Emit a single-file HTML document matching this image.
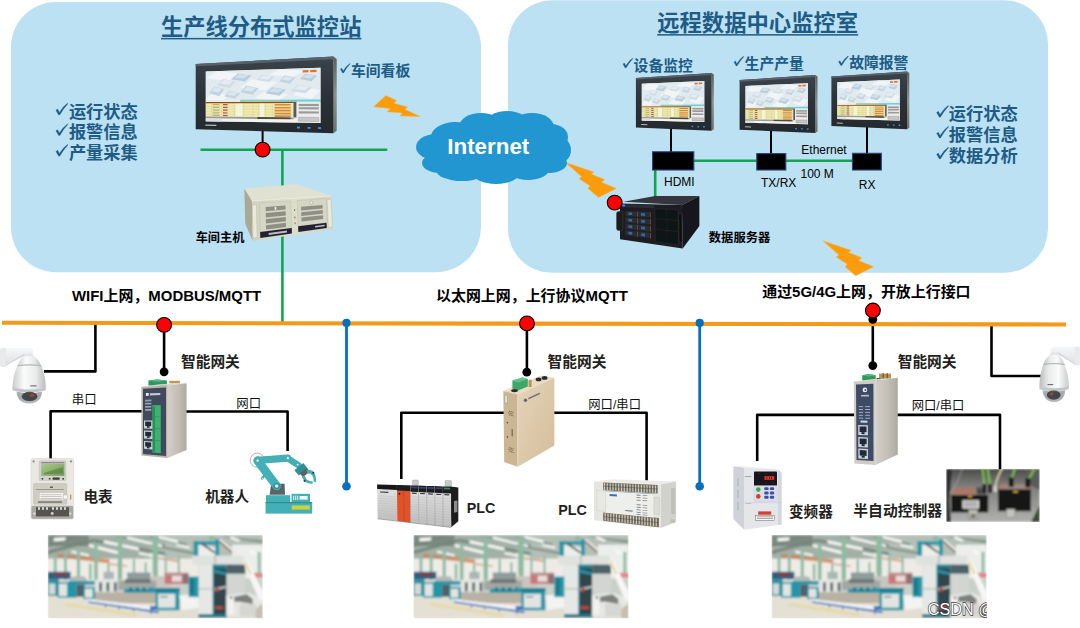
<!DOCTYPE html>
<html lang="zh"><head><meta charset="utf-8"><title>智能网关组网示意图</title>
<style>
html,body{margin:0;padding:0;background:#fff;}
body{width:1080px;height:628px;overflow:hidden;font-family:"Liberation Sans","Noto Sans CJK SC",sans-serif;}
svg{display:block;font-family:"Liberation Sans","Noto Sans CJK SC",sans-serif;}
</style></head><body>
<svg width="1080" height="628" viewBox="0 0 1080 628">
<defs>
<linearGradient id="medge" x1="0" y1="0" x2="0" y2="1"><stop offset="0" stop-color="#5e5f58"/><stop offset="0.5" stop-color="#8e8f88"/><stop offset="1" stop-color="#6f706a"/></linearGradient><linearGradient id="bezel" x1="0" y1="0" x2="0" y2="1"><stop offset="0" stop-color="#3b444a"/><stop offset="0.5" stop-color="#2c3338"/><stop offset="1" stop-color="#24292d"/></linearGradient><linearGradient id="ipcf" x1="0" y1="0" x2="1" y2="0"><stop offset="0" stop-color="#d2d2bf"/><stop offset="0.5" stop-color="#dedecd"/><stop offset="1" stop-color="#d4d4c2"/></linearGradient><filter id="soft" x="-5%" y="-5%" width="110%" height="110%"><feGaussianBlur stdDeviation="0.45"/></filter><filter id="soft2" x="-5%" y="-5%" width="110%" height="110%"><feGaussianBlur stdDeviation="0.8"/></filter><linearGradient id="domeg" x1="0" y1="0" x2="1" y2="0"><stop offset="0" stop-color="#c9cbcc"/><stop offset="0.35" stop-color="#fbfbfb"/><stop offset="0.7" stop-color="#e9eaea"/><stop offset="1" stop-color="#b9bbbc"/></linearGradient><linearGradient id="armg" x1="0" y1="0" x2="0" y2="1"><stop offset="0" stop-color="#f6f7f8"/><stop offset="1" stop-color="#dfe2e4"/></linearGradient><radialGradient id="lensg" cx="0.5" cy="0.35" r="0.75"><stop offset="0" stop-color="#9a9da1"/><stop offset="0.6" stop-color="#a9acb0"/><stop offset="1" stop-color="#d3d5d7"/></radialGradient><linearGradient id="gwside" x1="0" y1="0" x2="1" y2="0"><stop offset="0" stop-color="#d3cfc8"/><stop offset="0.55" stop-color="#c3bfb7"/><stop offset="1" stop-color="#aeaaa2"/></linearGradient><linearGradient id="goldR" x1="0" y1="0" x2="1" y2="1"><stop offset="0" stop-color="#e6d4b8"/><stop offset="1" stop-color="#d3bd9b"/></linearGradient><linearGradient id="lcd" x1="0" y1="0" x2="1" y2="1"><stop offset="0" stop-color="#a9c98b"/><stop offset="1" stop-color="#6f9a52"/></linearGradient><linearGradient id="plcg" x1="0" y1="0" x2="0" y2="1"><stop offset="0" stop-color="#e4e4e4"/><stop offset="1" stop-color="#bfbfbf"/></linearGradient><linearGradient id="cabg" x1="0" y1="0" x2="0" y2="1"><stop offset="0" stop-color="#4a4b4a"/><stop offset="0.3" stop-color="#7b7c7a"/><stop offset="1" stop-color="#b1b2af"/></linearGradient><clipPath id="cabclip"><rect x="946.2" y="469" width="93.5" height="53"/></clipPath><clipPath id="facclip"><rect x="0" y="0" width="215.0" height="83.3"/></clipPath><g id="factory" clip-path="url(#facclip)"><g filter="url(#soft2)"><rect x="0" y="0" width="215.0" height="83.3" fill="#c9d0c9"/><rect x="0.1" y="0.1" width="117.2" height="24.2" fill="#a3b0a6"/><rect x="102.2" y="0.1" width="112.8" height="24.2" fill="#b4bfb6"/><rect x="0.1" y="0.1" width="41.0" height="11.0" fill="#7c8a81"/><rect x="0.1" y="23.6" width="117.2" height="22.0" fill="#efece8"/><rect x="102.2" y="23.6" width="48.4" height="19.8" fill="#eeebe7"/><rect x="184.3" y="9.7" width="30.8" height="33.7" fill="#eceeeb"/><rect x="0.1" y="60.2" width="117.2" height="24.2" fill="#e4e0d4"/><rect x="102.2" y="68.3" width="112.8" height="16.1" fill="#e2ded2"/><polygon points="19.2,68.3 91.0,79.2 88.0,81.4 14.8,70.0" fill="#e6d68c" opacity="0.7"/><polygon points="0.1,15.5 45.6,3.8 45.6,6.7 0.1,19.2" fill="#74857b" opacity="0.85"/><polygon points="45.6,3.8 117.3,17.0 117.3,19.9 45.6,7.0" fill="#74857b" opacity="0.85"/><polygon points="0.1,8.9 26.5,0.9 32.4,0.9 0.1,12.3" fill="#74857b" opacity="0.85"/><polygon points="70.5,0.9 117.3,8.9 117.3,11.4 66.1,0.9" fill="#74857b" opacity="0.85"/><polygon points="102.2,8.9 146.2,17.0 146.2,19.6 102.2,11.4" fill="#7d8d83" opacity="0.8"/><polygon points="102.2,0.9 138.8,8.2 138.8,10.5 102.2,3.5" fill="#7d8d83" opacity="0.8"/><polygon points="172.5,0.9 215.0,5.3 215.0,8.2 184.3,3.8" fill="#7d8d83" opacity="0.8"/><polygon points="55.8,5.3 91.0,12.6 91.0,15.5 55.8,8.2" fill="#f6f8f5"/><polygon points="41.2,8.9 73.4,17.0 73.4,19.9 41.2,11.8" fill="#f6f8f5"/><polygon points="79.3,1.6 114.4,9.7 114.4,12.3 79.3,4.1" fill="#f6f8f5"/><polygon points="6.0,3.1 17.7,2.3 17.7,5.5 6.0,6.4" fill="#f6f8f5"/><polygon points="23.6,15.5 41.2,19.2 41.2,21.4 23.6,17.7" fill="#f6f8f5"/><polygon points="91.0,17.0 114.4,22.1 114.4,24.0 91.0,19.2" fill="#f6f8f5"/><polygon points="111.0,0.9 130.0,5.3 130.0,8.2 111.0,3.5" fill="#f6f8f5"/><polygon points="128.6,8.9 141.8,11.4 141.8,13.8 128.6,11.1" fill="#f6f8f5"/><polygon points="184.3,1.6 193.0,5.3 190.1,6.7 181.3,3.1" fill="#f6f8f5"/><polygon points="201.8,14.0 207.7,17.0 207.7,20.6 201.8,17.7" fill="#f6f8f5"/><polygon points="102.2,18.4 119.8,22.1 119.8,24.0 102.2,20.6" fill="#f6f8f5"/><polygon points="9.7,18.7 61.7,24.6 61.7,28.4 9.7,22.3" fill="#cd7a48" opacity="0.75"/><polygon points="61.7,28.0 79.3,30.2 79.3,31.9 61.7,29.9" fill="#cf9a78" opacity="0.7"/><polygon points="108.1,21.4 131.5,25.0 131.5,27.5 108.1,23.7" fill="#cc7a50" opacity="0.55"/><rect x="6.0" y="22.8" width="2.9" height="20.5" fill="#8dbba3"/><rect x="16.2" y="19.2" width="2.9" height="25.6" fill="#8dbba3"/><rect x="29.1" y="14.0" width="3.2" height="27.8" fill="#8dbba3"/><rect x="46.3" y="8.9" width="3.7" height="35.9" fill="#8dbba3"/><rect x="70.0" y="1.6" width="4.4" height="43.2" fill="#8dbba3"/><rect x="105.3" y="1.6" width="4.7" height="40.3" fill="#8dbba3"/><rect x="41.2" y="28.7" width="2.6" height="16.1" fill="#8dbba3"/><rect x="59.5" y="28.7" width="2.2" height="13.2" fill="#8dbba3"/><rect x="85.1" y="24.3" width="2.2" height="17.6" fill="#8dbba3"/><rect x="96.8" y="27.2" width="2.1" height="14.7" fill="#8dbba3"/><rect x="104.8" y="0.9" width="5.0" height="38.1" fill="#8dbba3"/><rect x="116.9" y="18.4" width="2.1" height="20.5" fill="#8dbba3"/><rect x="130.0" y="21.4" width="2.1" height="17.6" fill="#8dbba3"/><rect x="161.5" y="0.9" width="5.1" height="4.4" fill="#8dbba3"/><rect x="209.9" y="17.0" width="2.9" height="22.0" fill="#8dbba3"/><rect x="79.3" y="37.5" width="23.4" height="8.1" fill="#8e9c9a"/><rect x="55.8" y="36.8" width="10.3" height="7.3" fill="#a9b7b5"/><rect x="102.2" y="41.2" width="22.0" height="11.7" fill="#c9c6c0"/><rect x="116.9" y="37.8" width="23.7" height="11.1" fill="#c9777a"/><rect x="116.9" y="37.8" width="23.7" height="2.9" fill="#b98f8f"/><rect x="124.2" y="40.7" width="9.5" height="5.9" fill="#e6dcda"/><rect x="135.2" y="39.0" width="5.4" height="10.0" fill="#8f6f72"/><rect x="203.3" y="37.8" width="11.7" height="5.0" fill="#dc8a8b"/><rect x="0.1" y="36.8" width="22.7" height="7.3" fill="#2b5f83"/><rect x="6.0" y="37.8" width="13.2" height="3.4" fill="#7c3f45"/><rect x="0.1" y="44.1" width="11.0" height="16.8" fill="#2f8ea0"/><rect x="1.3" y="48.5" width="6.2" height="11.0" fill="#d5dad7"/><rect x="9.7" y="47.5" width="19.0" height="15.2" fill="#2496a8"/><rect x="11.1" y="48.9" width="8.1" height="12.3" fill="#e3e5e2"/><polygon points="21.4,46.3 24.3,41.6 36.8,41.2 40.0,46.3" fill="#b3b9b6"/><rect x="20.6" y="46.0" width="26.4" height="3.5" fill="#2496a8"/><rect x="28.7" y="49.5" width="8.1" height="12.2" fill="#4d626b"/><rect x="35.6" y="52.4" width="12.6" height="11.7" fill="#2496a8"/><rect x="37.1" y="53.9" width="7.8" height="8.8" fill="#e3e5e2"/><rect x="47.3" y="45.5" width="6.7" height="11.7" fill="#e6e7e4"/><rect x="51.4" y="47.5" width="2.6" height="8.8" fill="#4f5a63"/><rect x="54.6" y="45.5" width="6.7" height="11.7" fill="#e6e7e4"/><rect x="58.7" y="47.5" width="2.6" height="8.8" fill="#4f5a63"/><rect x="62.0" y="45.5" width="6.7" height="11.7" fill="#e6e7e4"/><rect x="66.1" y="47.5" width="2.6" height="8.8" fill="#4f5a63"/><rect x="47.3" y="57.3" width="61.2" height="11.0" fill="#b9b2a4"/><rect x="70.5" y="45.5" width="38.1" height="9.5" fill="#a2a9a5"/><rect x="77.1" y="44.1" width="25.6" height="4.0" fill="#6f7774"/><rect x="76.3" y="53.9" width="33.0" height="3.8" fill="#2496a8"/><rect x="81.4" y="52.4" width="3.2" height="4.1" fill="#1c7888"/><rect x="88.0" y="52.4" width="3.2" height="4.1" fill="#1c7888"/><rect x="94.6" y="52.4" width="3.2" height="4.1" fill="#1c7888"/><rect x="101.5" y="52.4" width="3.2" height="4.1" fill="#1c7888"/><polygon points="39.0,63.9 110.0,71.9 110.8,76.3 40.4,66.2" fill="#f1f3f6"/><polygon points="40.4,66.2 110.8,76.3 110.8,78.2 40.4,67.8" fill="#3b70b6"/><rect x="57.3" y="70.0" width="1.0" height="2.6" fill="#3b70b6"/><rect x="70.5" y="72.0" width="1.0" height="2.6" fill="#3b70b6"/><rect x="85.1" y="74.1" width="1.0" height="2.6" fill="#3b70b6"/><rect x="102.7" y="76.7" width="1.0" height="2.6" fill="#3b70b6"/><rect x="107.8" y="53.3" width="24.0" height="22.0" fill="#2496a8"/><rect x="107.8" y="53.3" width="24.0" height="2.9" fill="#1c7888"/><rect x="110.3" y="58.9" width="17.1" height="13.8" fill="#e3e5e2"/><rect x="112.5" y="61.2" width="7.3" height="1.2" fill="#62737a"/><polygon points="131.5,60.2 150.6,59.2 151.3,72.7 133.7,74.9" fill="#f3f3f1"/><polygon points="102.2,52.9 108.1,53.3 108.1,56.5 102.2,56.2" fill="#2496a8"/><rect x="102.2" y="71.2" width="6.6" height="3.7" fill="#3b70b6"/><rect x="140.9" y="41.6" width="10.8" height="20.5" fill="#2496a8"/><rect x="142.1" y="43.4" width="4.1" height="16.1" fill="#1c7888"/><rect x="145.9" y="6.4" width="4.7" height="16.4" fill="#2496a8"/><rect x="167.4" y="4.1" width="4.0" height="18.8" fill="#2496a8"/><rect x="145.9" y="6.4" width="25.5" height="3.2" fill="#2496a8"/><polygon points="150.6,9.7 167.4,12.3 167.4,21.4 150.6,21.4" fill="#eceeeb"/><polygon points="152.7,8.9 154.9,8.2 167.4,17.0 166.7,18.4" fill="#4a4f52"/><rect x="144.4" y="20.6" width="51.9" height="8.9" fill="#dfe2de"/><rect x="166.7" y="20.6" width="1.2" height="8.9" fill="#aab0ac"/><rect x="150.8" y="29.6" width="14.1" height="50.7" fill="#e6e8e5"/><rect x="150.8" y="53.3" width="14.1" height="1.2" fill="#b7bdb9"/><rect x="164.9" y="29.6" width="13.8" height="52.2" fill="#1f7f90"/><rect x="166.4" y="33.4" width="12.3" height="45.9" fill="#33444b"/><polygon points="166.4,34.6 184.3,39.0 184.3,41.2 166.4,37.8" fill="#2593a5"/><polygon points="166.4,52.9 178.4,50.7 178.4,52.9 166.4,55.8" fill="#b9bcb9"/><rect x="167.4" y="52.9" width="3.7" height="3.7" fill="#b5493f"/><rect x="167.4" y="71.2" width="8.1" height="2.9" fill="#b5493f"/><rect x="178.7" y="29.6" width="18.8" height="9.4" fill="#4e6268"/><rect x="178.7" y="38.7" width="18.8" height="21.5" fill="#d2d5d1"/><rect x="150.6" y="79.2" width="28.6" height="3.4" fill="#1c7888"/><polygon points="178.4,60.2 190.1,58.3 201.8,58.0 214.3,63.9 214.3,82.9 178.4,81.4" fill="#e6e7e4"/><polygon points="186.4,61.7 198.9,59.2 204.8,63.9 204.8,69.0 191.6,66.8 186.4,66.8" fill="#7d807d"/><rect x="179.9" y="62.4" width="5.9" height="16.8" fill="#f2f2f0"/><rect x="191.6" y="69.0" width="16.1" height="12.5" fill="#d6d7d3"/><polygon points="207.7,74.1 215.0,68.3 215.0,84.4 207.7,82.9" fill="#c7c0ae"/><rect x="182.5" y="61.7" width="1.8" height="2.2" fill="#3e4447"/><polygon points="194.8,25.8 200.1,26.1 215.0,56.5 215.0,65.3 211.4,65.3" fill="#f7f7f5"/><polygon points="196.0,26.5 198.2,26.5 204.0,39.0 201.8,39.0" fill="#e4d48e"/><polygon points="170.8,5.0 172.8,4.1 190.1,18.4 187.9,19.3" fill="#eaebe9"/><polygon points="171.1,6.7 172.2,6.1 184.3,17.0 183.1,17.6" fill="#8a3f3a"/></g></g><clipPath id="wmclip"><rect x="920" y="595" width="66.7" height="30"/></clipPath>
</defs>
<rect x="11" y="2" width="470" height="270.3" rx="45" fill="#bce1f3"/>
<rect x="508" y="0.3" width="540" height="272.5" rx="44" fill="#bce1f3"/>
<line x1="200.5" y1="149.8" x2="387.3" y2="149.8" stroke="#12a550" stroke-width="2.6" stroke-linecap="butt"/>
<line x1="282.4" y1="149.8" x2="282.4" y2="322" stroke="#12a550" stroke-width="2.6" stroke-linecap="butt"/>
<line x1="693" y1="160.7" x2="853" y2="160.7" stroke="#12a550" stroke-width="2.6" stroke-linecap="butt"/>
<line x1="655.2" y1="169" x2="655.2" y2="197" stroke="#12a550" stroke-width="2.6" stroke-linecap="butt"/>
<line x1="262.6" y1="126" x2="262.6" y2="143" stroke="#000" stroke-width="2" stroke-linecap="butt"/>
<line x1="671" y1="128" x2="671" y2="153" stroke="#000" stroke-width="2" stroke-linecap="butt"/>
<line x1="771" y1="130" x2="771" y2="155" stroke="#000" stroke-width="2" stroke-linecap="butt"/>
<line x1="867" y1="126" x2="867" y2="155" stroke="#000" stroke-width="2" stroke-linecap="butt"/>
<line x1="346.5" y1="324" x2="346.5" y2="486.3" stroke="#0670c0" stroke-width="2.8" stroke-linecap="butt"/>
<circle cx="346.5" cy="486.3" r="4.3" fill="#0670c0"/>
<line x1="699.7" y1="324" x2="699.7" y2="486.3" stroke="#0670c0" stroke-width="2.8" stroke-linecap="butt"/>
<circle cx="699.7" cy="486.3" r="4.3" fill="#0670c0"/>
<polyline points="95.4,323 95.4,371.4 44,371.4" fill="none" stroke="#000" stroke-width="2.6" stroke-linejoin="round"/>
<polyline points="991.5,325 991.5,376.0 1041,376.0" fill="none" stroke="#000" stroke-width="2.6" stroke-linejoin="round"/>
<line x1="164.1" y1="325" x2="164.1" y2="371.8" stroke="#000" stroke-width="2.6" stroke-linecap="butt"/>
<line x1="526.9" y1="324" x2="526.9" y2="372.2" stroke="#000" stroke-width="2.6" stroke-linecap="butt"/>
<line x1="872.8" y1="319" x2="872.8" y2="365.6" stroke="#000" stroke-width="2.6" stroke-linecap="butt"/>
<polyline points="50.6,459 50.6,411.3 142,411.3" fill="none" stroke="#000" stroke-width="2.6" stroke-linejoin="round"/>
<polyline points="186,411.5 287.6,411.5 287.6,451" fill="none" stroke="#000" stroke-width="2.6" stroke-linejoin="round"/>
<polyline points="401.3,479 401.3,412.7 504,412.7" fill="none" stroke="#000" stroke-width="2.6" stroke-linejoin="round"/>
<polyline points="554,412.7 646.6,412.7 646.6,480.5" fill="none" stroke="#000" stroke-width="2.6" stroke-linejoin="round"/>
<polyline points="757.2,461 757.2,414.9 854,414.9" fill="none" stroke="#000" stroke-width="2.6" stroke-linejoin="round"/>
<polyline points="897,414.9 1000,414.9 1000,469.5" fill="none" stroke="#000" stroke-width="2.6" stroke-linejoin="round"/>
<line x1="2" y1="322.8" x2="1066" y2="324.5" stroke="#f39a1b" stroke-width="4.1" stroke-linecap="butt"/>
<circle cx="346.5" cy="322.9" r="4.1" fill="#0670c0"/>
<circle cx="699.7" cy="322.9" r="4.1" fill="#0670c0"/>
<circle cx="164.1" cy="371.8" r="4.4" fill="#000"/>
<circle cx="526.8" cy="372.2" r="4.4" fill="#000"/>
<circle cx="872.8" cy="365.6" r="4.4" fill="#000"/>
<circle cx="872.8" cy="319.4" r="4.4" fill="#000"/>
<polygon points="385.8,95.6 396.5,100.6 394.0,103.2 407.4,107.0 405.1,109.5 420.2,116.5 400.1,115.9 402.3,112.9 387.3,111.8 390.1,108.4 373.6,106.7" fill="#fb9c0c" stroke="#f7b24a" stroke-width="0.5"/>
<polygon points="565.6,162.5 594.0,172.1 591.2,174.0 604.6,179.5 601.6,182.3 616.3,188.4 598.5,197.4 587.9,188.4 590.1,185.9 579.0,178.7 581.7,176.7" fill="#fb9c0c" stroke="#f7b24a" stroke-width="0.5"/>
<polygon points="822.8,240.8 851.2,250.4 848.4,252.3 861.8,257.8 858.8,260.6 873.5,266.7 855.7,275.7 845.1,266.7 847.3,264.2 836.2,257.0 838.9,255.0" fill="#fb9c0c" stroke="#f7b24a" stroke-width="0.5"/>
<g fill="#2196d1"><ellipse cx="436" cy="147" rx="20" ry="13"/><ellipse cx="440" cy="163" rx="18" ry="10"/><ellipse cx="455" cy="137" rx="24" ry="15"/><ellipse cx="481" cy="127" rx="22" ry="14"/><ellipse cx="507" cy="125" rx="22" ry="14"/><ellipse cx="532" cy="127" rx="22" ry="14"/><ellipse cx="551" cy="137" rx="17" ry="13"/><ellipse cx="555" cy="150" rx="16" ry="15"/><ellipse cx="549" cy="163" rx="18" ry="10"/><ellipse cx="528" cy="168" rx="22" ry="12"/><ellipse cx="496" cy="172" rx="24" ry="12"/><ellipse cx="462" cy="170" rx="26" ry="11"/><ellipse cx="492" cy="150" rx="60" ry="24"/></g>
<text x="447.3" y="154.3" font-size="22.6" font-weight="bold" fill="#fff" textLength="82" lengthAdjust="spacingAndGlyphs">Internet</text>
<rect x="652.6" y="151.8" width="41.2" height="18.2" fill="#000" stroke="#27447a" stroke-width="1.1"/>
<rect x="756.8" y="153.6" width="29" height="16.4" fill="#000" stroke="#27447a" stroke-width="1.1"/>
<rect x="852.5" y="153.3" width="28.8" height="16.7" fill="#000" stroke="#27447a" stroke-width="1.1"/>
<polygon points="333.5,56.5 336.7,58.9 336.7,130.8 333.5,133.2" fill="url(#medge)"/><polygon points="195.7,63.9 333.5,56.5 333.5,133.2 195.7,129.2" fill="url(#bezel)"/><polygon points="195.7,63.9 333.5,56.5 333.5,59.2 195.7,66.2" fill="#59626a"/><g filter="url(#soft)"><polygon points="205.8,71.4 320.5,67.7 320.5,123.0 205.8,121.2" fill="#dfe8ec"/><polygon points="205.8,71.4 320.5,67.7 320.5,99.8 205.8,100.2" fill="#e1eaef"/><polygon points="216.8,71.0 240.2,73.4 229.2,80.8 205.8,78.3" fill="#f1f5f7"/><polygon points="252.0,79.3 276.9,82.2 265.2,90.5 240.2,87.5" fill="#f1f5f7"/><polygon points="280.3,69.0 304.4,70.7 293.1,76.7 268.9,74.9" fill="#f1f5f7"/><polygon points="213.1,92.2 228.7,95.1 221.4,102.2 205.8,99.2" fill="#f1f5f7"/><polygon points="265.0,91.6 288.4,94.2 277.4,101.0 254.0,98.3" fill="#f1f5f7"/><polygon points="301.8,86.8 320.5,90.2 311.7,98.7 293.0,95.2" fill="#f1f5f7"/><polygon points="214.0,86.2 224.2,89.0 219.4,96.2 209.2,93.2" fill="#c3d4e0"/><polygon points="214.8,87.1 221.9,88.7 218.6,92.6 211.5,91.1" fill="#dbe6ed"/><polygon points="223.1,78.9 235.6,81.4 229.8,87.9 217.3,85.4" fill="#d0dde6"/><polygon points="224.1,79.8 232.9,81.1 228.8,84.7 220.0,83.4" fill="#e4ecf1"/><polygon points="237.6,73.4 251.7,75.5 245.1,81.5 231.0,79.3" fill="#b9cddb"/><polygon points="238.8,74.2 248.6,75.3 244.0,78.6 234.1,77.5" fill="#d3e0e9"/><polygon points="246.1,85.6 258.6,88.2 252.7,94.8 240.2,92.2" fill="#c3d4e0"/><polygon points="247.1,86.5 255.8,87.9 251.7,91.6 243.0,90.2" fill="#dbe6ed"/><polygon points="262.1,74.8 274.6,76.7 268.8,82.0 256.3,80.1" fill="#d0dde6"/><polygon points="263.1,75.5 271.9,76.5 267.8,79.5 259.0,78.5" fill="#e4ecf1"/><polygon points="272.1,87.3 286.1,89.6 279.5,95.7 265.4,93.3" fill="#b9cddb"/><polygon points="273.2,88.1 283.0,89.4 278.4,92.7 268.5,91.4" fill="#d3e0e9"/><polygon points="284.4,75.3 295.3,77.6 290.1,83.8 279.2,81.4" fill="#c3d4e0"/><polygon points="285.2,76.1 292.9,77.4 289.3,80.8 281.6,79.5" fill="#dbe6ed"/><polygon points="297.7,84.7 312.5,87.1 305.5,93.3 290.7,90.9" fill="#d0dde6"/><polygon points="298.8,85.6 309.2,86.8 304.3,90.3 294.0,89.0" fill="#e4ecf1"/><polygon points="305.4,73.7 317.1,75.7 311.6,81.2 299.9,79.1" fill="#b9cddb"/><polygon points="306.3,74.4 314.5,75.5 310.6,78.5 302.4,77.4" fill="#d3e0e9"/><polygon points="229.3,91.0 240.2,93.2 235.1,98.6 224.2,96.4" fill="#c3d4e0"/><polygon points="230.2,91.7 237.8,92.9 234.2,95.9 226.6,94.7" fill="#dbe6ed"/><polygon points="302.7,70.2 308.5,70.0 308.5,72.2 302.7,72.4" fill="#e8702a"/><polygon points="310.2,70.0 316.5,69.8 316.5,72.0 310.2,72.2" fill="#e8702a"/><polygon points="205.8,100.0 240.2,99.8 240.2,101.9 205.8,102.0" fill="#f2e9e4"/><polygon points="240.2,99.8 279.2,99.7 279.2,101.8 240.2,101.9" fill="#8fcbae"/><polygon points="279.2,99.7 320.5,99.5 320.5,101.7 279.2,101.8" fill="#6bcfd6"/><polygon points="205.8,102.0 293.5,101.8 293.5,117.4 205.8,116.4" fill="#efecb0"/><polygon points="205.8,102.0 293.5,101.8 293.5,103.1 205.8,103.2" fill="#8b4a1e"/><line x1="205.8" y1="106.2" x2="293.5" y2="106.4" stroke="#c9c27a" stroke-width="0.35"/><line x1="205.8" y1="109.0" x2="293.5" y2="109.3" stroke="#c9c27a" stroke-width="0.35"/><line x1="205.8" y1="111.7" x2="293.5" y2="112.3" stroke="#c9c27a" stroke-width="0.35"/><line x1="205.8" y1="114.2" x2="293.5" y2="115.0" stroke="#c9c27a" stroke-width="0.35"/><line x1="211.5" y1="103.2" x2="211.5" y2="116.5" stroke="#cfc98a" stroke-width="0.35"/><line x1="221.9" y1="103.2" x2="221.9" y2="116.6" stroke="#cfc98a" stroke-width="0.35"/><line x1="234.5" y1="103.2" x2="234.5" y2="116.8" stroke="#cfc98a" stroke-width="0.35"/><line x1="243.7" y1="103.2" x2="243.7" y2="116.9" stroke="#cfc98a" stroke-width="0.35"/><line x1="252.8" y1="103.2" x2="252.8" y2="117.0" stroke="#cfc98a" stroke-width="0.35"/><line x1="258.6" y1="103.2" x2="258.6" y2="117.0" stroke="#cfc98a" stroke-width="0.35"/><line x1="265.4" y1="103.2" x2="265.4" y2="117.1" stroke="#cfc98a" stroke-width="0.35"/><line x1="272.3" y1="103.1" x2="272.3" y2="117.2" stroke="#cfc98a" stroke-width="0.35"/><polygon points="235.6,103.7 242.5,103.7 242.5,116.6 235.6,116.5" fill="#f6f4d8"/><polygon points="259.7,103.7 264.3,103.7 264.3,116.8 259.7,116.8" fill="#f6f4d8"/><polygon points="274.6,103.9 290.7,103.9 290.7,105.5 274.6,105.5" fill="#d9873a"/><polygon points="212.7,104.0 219.6,104.0 219.6,105.2 212.7,105.2" fill="#b9b37a"/><polygon points="223.0,104.0 227.6,104.0 227.6,105.2 223.0,105.2" fill="#a55"/><polygon points="274.6,106.9 290.7,106.9 290.7,108.5 274.6,108.4" fill="#d9873a"/><polygon points="212.7,106.7 219.6,106.7 219.6,108.0 212.7,108.0" fill="#b9b37a"/><polygon points="223.0,106.8 227.6,106.8 227.6,108.0 223.0,108.0" fill="#a55"/><polygon points="274.6,109.8 290.7,109.8 290.7,111.5 274.6,111.4" fill="#d9873a"/><polygon points="212.7,109.5 219.6,109.5 219.6,110.8 212.7,110.7" fill="#b9b37a"/><polygon points="223.0,109.5 227.6,109.6 227.6,110.8 223.0,110.8" fill="#a55"/><polygon points="274.6,112.7 290.7,112.8 290.7,114.4 274.6,114.3" fill="#d9873a"/><polygon points="212.7,112.2 219.6,112.3 219.6,113.6 212.7,113.5" fill="#b9b37a"/><polygon points="223.0,112.3 227.6,112.4 227.6,113.6 223.0,113.6" fill="#a55"/><polygon points="274.6,115.3 290.7,115.5 290.7,117.1 274.6,116.9" fill="#d9873a"/><polygon points="212.7,114.8 219.6,114.8 219.6,116.1 212.7,116.0" fill="#b9b37a"/><polygon points="223.0,114.9 227.6,114.9 227.6,116.2 223.0,116.1" fill="#a55"/><polygon points="293.5,101.8 296.6,101.8 296.6,117.4 293.5,117.4" fill="#5a5a5a"/><polygon points="296.6,101.8 320.5,101.7 320.5,123.0 296.6,122.6" fill="#ececec"/><polygon points="298.7,103.9 318.8,103.9 318.8,106.1 298.7,106.1" fill="#9a9a9a"/><polygon points="298.7,107.2 318.8,107.2 318.8,109.4 298.7,109.3" fill="#9a9a9a"/><polygon points="298.7,111.2 318.8,111.4 318.8,113.6 298.7,113.4" fill="#9a9a9a"/><polygon points="298.7,117.2 318.8,117.4 318.8,121.6 298.7,121.3" fill="#c6c6c6" stroke="#777" stroke-width="0.3"/><polygon points="205.8,116.4 293.5,117.4 293.5,119.6 205.8,118.4" fill="#9b9b9b"/><polygon points="257.4,117.0 290.7,117.4 290.7,119.5 257.4,119.1" fill="#4c4c4c"/><polygon points="205.8,118.4 296.6,119.6 296.6,122.6 205.8,121.2" fill="#f4f4ee"/><polygon points="205.8,118.7 221.9,118.9 221.9,121.4 205.8,121.2" fill="#dedede"/></g><polygon points="205.3,124.5 216.4,124.8 216.4,126.1 205.3,125.8" fill="#b8bcc0"/><polygon points="297.0,126.6 300.0,126.7 300.0,128.5 297.0,128.5" fill="#3f8fdc"/><polygon points="307.6,126.9 310.6,126.9 310.6,128.8 307.6,128.7" fill="#3f8fdc"/><polygon points="318.1,127.1 321.1,127.2 321.1,129.1 318.1,129.0" fill="#3f8fdc"/><polygon points="711.6,72.9 713.8,74.4 713.8,129.2 711.6,130.7" fill="url(#medge)"/><polygon points="635.9,77.9 711.6,72.9 711.6,130.7 635.9,127.6" fill="url(#bezel)"/><polygon points="635.9,77.9 711.6,72.9 711.6,74.9 635.9,79.6" fill="#59626a"/><g filter="url(#soft)"><polygon points="641.8,83.8 704.3,81.0 704.3,122.0 641.8,120.5" fill="#dfe8ec"/><polygon points="641.8,83.8 704.3,81.0 704.3,104.8 641.8,105.1" fill="#e1eaef"/><polygon points="647.8,83.5 660.6,85.2 654.6,90.7 641.8,88.9" fill="#f1f5f7"/><polygon points="667.0,89.6 680.6,91.7 674.2,97.9 660.6,95.7" fill="#f1f5f7"/><polygon points="682.4,82.0 695.6,83.2 689.4,87.6 676.2,86.3" fill="#f1f5f7"/><polygon points="645.8,99.2 654.3,101.3 650.3,106.6 641.8,104.4" fill="#f1f5f7"/><polygon points="674.1,98.7 686.8,100.6 680.8,105.7 668.1,103.7" fill="#f1f5f7"/><polygon points="694.1,95.1 704.3,97.6 699.5,104.0 689.3,101.4" fill="#f1f5f7"/><polygon points="646.3,94.7 651.8,96.8 649.2,102.1 643.7,99.9" fill="#c3d4e0"/><polygon points="646.7,95.4 650.6,96.6 648.8,99.5 644.9,98.3" fill="#dbe6ed"/><polygon points="651.3,89.4 658.1,91.2 654.9,96.0 648.1,94.1" fill="#d0dde6"/><polygon points="651.8,90.0 656.6,91.0 654.3,93.7 649.6,92.7" fill="#e4ecf1"/><polygon points="659.2,85.3 666.8,86.8 663.2,91.2 655.6,89.7" fill="#b9cddb"/><polygon points="659.8,85.9 665.1,86.7 662.6,89.1 657.2,88.3" fill="#d3e0e9"/><polygon points="663.8,94.3 670.6,96.2 667.4,101.1 660.6,99.2" fill="#c3d4e0"/><polygon points="664.3,95.0 669.1,96.0 666.8,98.7 662.1,97.7" fill="#dbe6ed"/><polygon points="672.5,86.3 679.3,87.7 676.1,91.6 669.3,90.2" fill="#d0dde6"/><polygon points="673.0,86.8 677.8,87.5 675.6,89.7 670.8,89.0" fill="#e4ecf1"/><polygon points="677.9,95.5 685.6,97.2 682.0,101.7 674.3,99.9" fill="#b9cddb"/><polygon points="678.5,96.1 683.9,97.1 681.3,99.5 676.0,98.6" fill="#d3e0e9"/><polygon points="684.6,86.6 690.6,88.3 687.8,92.9 681.8,91.2" fill="#c3d4e0"/><polygon points="685.1,87.2 689.2,88.1 687.3,90.7 683.1,89.8" fill="#dbe6ed"/><polygon points="691.9,93.6 699.9,95.3 696.1,100.0 688.1,98.2" fill="#d0dde6"/><polygon points="692.5,94.2 698.1,95.2 695.5,97.7 689.8,96.7" fill="#e4ecf1"/><polygon points="696.1,85.4 702.4,86.9 699.4,91.0 693.1,89.5" fill="#b9cddb"/><polygon points="696.6,85.9 701.0,86.7 698.9,89.0 694.5,88.2" fill="#d3e0e9"/><polygon points="654.6,98.3 660.6,99.9 657.8,103.9 651.8,102.3" fill="#c3d4e0"/><polygon points="655.1,98.8 659.2,99.7 657.3,101.9 653.1,101.0" fill="#dbe6ed"/><polygon points="694.6,82.8 697.7,82.7 697.7,84.3 694.6,84.4" fill="#e8702a"/><polygon points="698.7,82.6 702.1,82.5 702.1,84.1 698.7,84.3" fill="#e8702a"/><polygon points="641.8,104.9 660.6,104.8 660.6,106.3 641.8,106.4" fill="#f2e9e4"/><polygon points="660.6,104.8 681.8,104.7 681.8,106.3 660.6,106.3" fill="#8fcbae"/><polygon points="681.8,104.7 704.3,104.6 704.3,106.2 681.8,106.3" fill="#6bcfd6"/><polygon points="641.8,106.4 689.6,106.3 689.6,117.9 641.8,117.1" fill="#efecb0"/><polygon points="641.8,106.4 689.6,106.3 689.6,107.3 641.8,107.3" fill="#8b4a1e"/><line x1="641.8" y1="109.5" x2="689.6" y2="109.7" stroke="#c9c27a" stroke-width="0.35"/><line x1="641.8" y1="111.5" x2="689.6" y2="111.9" stroke="#c9c27a" stroke-width="0.35"/><line x1="641.8" y1="113.6" x2="689.6" y2="114.1" stroke="#c9c27a" stroke-width="0.35"/><line x1="641.8" y1="115.4" x2="689.6" y2="116.1" stroke="#c9c27a" stroke-width="0.35"/><line x1="644.9" y1="107.3" x2="644.9" y2="117.1" stroke="#cfc98a" stroke-width="0.35"/><line x1="650.6" y1="107.3" x2="650.6" y2="117.2" stroke="#cfc98a" stroke-width="0.35"/><line x1="657.4" y1="107.3" x2="657.4" y2="117.3" stroke="#cfc98a" stroke-width="0.35"/><line x1="662.4" y1="107.3" x2="662.4" y2="117.4" stroke="#cfc98a" stroke-width="0.35"/><line x1="667.4" y1="107.3" x2="667.4" y2="117.5" stroke="#cfc98a" stroke-width="0.35"/><line x1="670.6" y1="107.3" x2="670.6" y2="117.5" stroke="#cfc98a" stroke-width="0.35"/><line x1="674.3" y1="107.3" x2="674.3" y2="117.6" stroke="#cfc98a" stroke-width="0.35"/><line x1="678.1" y1="107.3" x2="678.1" y2="117.7" stroke="#cfc98a" stroke-width="0.35"/><polygon points="658.1,107.7 661.8,107.7 661.8,117.2 658.1,117.1" fill="#f6f4d8"/><polygon points="671.2,107.7 673.7,107.7 673.7,117.4 671.2,117.4" fill="#f6f4d8"/><polygon points="679.3,107.9 688.1,107.9 688.1,109.1 679.3,109.0" fill="#d9873a"/><polygon points="645.6,107.9 649.3,107.9 649.3,108.8 645.6,108.8" fill="#b9b37a"/><polygon points="651.2,107.9 653.7,107.9 653.7,108.8 651.2,108.8" fill="#a55"/><polygon points="679.3,110.0 688.1,110.1 688.1,111.3 679.3,111.2" fill="#d9873a"/><polygon points="645.6,109.9 649.3,109.9 649.3,110.8 645.6,110.8" fill="#b9b37a"/><polygon points="651.2,109.9 653.7,109.9 653.7,110.9 651.2,110.9" fill="#a55"/><polygon points="679.3,112.2 688.1,112.3 688.1,113.4 679.3,113.4" fill="#d9873a"/><polygon points="645.6,111.9 649.3,112.0 649.3,112.9 645.6,112.9" fill="#b9b37a"/><polygon points="651.2,112.0 653.7,112.0 653.7,112.9 651.2,112.9" fill="#a55"/><polygon points="679.3,114.3 688.1,114.4 688.1,115.6 679.3,115.5" fill="#d9873a"/><polygon points="645.6,114.0 649.3,114.0 649.3,114.9 645.6,114.9" fill="#b9b37a"/><polygon points="651.2,114.0 653.7,114.1 653.7,115.0 651.2,115.0" fill="#a55"/><polygon points="679.3,116.3 688.1,116.4 688.1,117.6 679.3,117.5" fill="#d9873a"/><polygon points="645.6,115.8 649.3,115.9 649.3,116.8 645.6,116.7" fill="#b9b37a"/><polygon points="651.2,115.9 653.7,115.9 653.7,116.9 651.2,116.8" fill="#a55"/><polygon points="689.6,106.3 691.3,106.3 691.3,117.9 689.6,117.9" fill="#5a5a5a"/><polygon points="691.3,106.3 704.3,106.2 704.3,122.0 691.3,121.7" fill="#ececec"/><polygon points="692.4,107.9 703.4,107.9 703.4,109.5 692.4,109.5" fill="#9a9a9a"/><polygon points="692.4,110.3 703.4,110.3 703.4,112.0 692.4,111.9" fill="#9a9a9a"/><polygon points="692.4,113.3 703.4,113.4 703.4,115.0 692.4,114.9" fill="#9a9a9a"/><polygon points="692.4,117.7 703.4,117.9 703.4,121.0 692.4,120.7" fill="#c6c6c6" stroke="#777" stroke-width="0.3"/><polygon points="641.8,117.1 689.6,117.9 689.6,119.5 641.8,118.5" fill="#9b9b9b"/><polygon points="669.9,117.5 688.1,117.8 688.1,119.4 669.9,119.1" fill="#4c4c4c"/><polygon points="641.8,118.5 691.3,119.5 691.3,121.7 641.8,120.5" fill="#f4f4ee"/><polygon points="641.8,118.7 650.6,118.9 650.6,120.8 641.8,120.5" fill="#dedede"/></g><polygon points="641.2,124.0 647.3,124.2 647.3,125.3 641.2,125.1" fill="#b8bcc0"/><polygon points="691.5,125.7 693.2,125.8 693.2,127.2 691.5,127.1" fill="#3f8fdc"/><polygon points="697.4,125.9 699.0,126.0 699.0,127.4 697.4,127.3" fill="#3f8fdc"/><polygon points="703.1,126.1 704.8,126.1 704.8,127.6 703.1,127.5" fill="#3f8fdc"/><polygon points="815.3,75.1 817.5,76.6 817.5,131.4 815.3,132.9" fill="url(#medge)"/><polygon points="739.6,80.1 815.3,75.1 815.3,132.9 739.6,129.8" fill="url(#bezel)"/><polygon points="739.6,80.1 815.3,75.1 815.3,77.1 739.6,81.8" fill="#59626a"/><g filter="url(#soft)"><polygon points="745.5,86.0 808.0,83.2 808.0,124.2 745.5,122.7" fill="#dfe8ec"/><polygon points="745.5,86.0 808.0,83.2 808.0,107.0 745.5,107.3" fill="#e1eaef"/><polygon points="751.5,85.7 764.3,87.4 758.3,92.9 745.5,91.1" fill="#f1f5f7"/><polygon points="770.7,91.8 784.3,93.9 777.9,100.1 764.3,97.9" fill="#f1f5f7"/><polygon points="786.1,84.2 799.3,85.4 793.1,89.8 779.9,88.5" fill="#f1f5f7"/><polygon points="749.5,101.4 758.0,103.5 754.0,108.8 745.5,106.6" fill="#f1f5f7"/><polygon points="777.8,100.9 790.5,102.8 784.5,107.9 771.8,105.9" fill="#f1f5f7"/><polygon points="797.8,97.3 808.0,99.8 803.2,106.2 793.0,103.6" fill="#f1f5f7"/><polygon points="750.0,96.9 755.5,99.0 752.9,104.3 747.4,102.1" fill="#c3d4e0"/><polygon points="750.4,97.6 754.3,98.8 752.5,101.7 748.6,100.5" fill="#dbe6ed"/><polygon points="755.0,91.6 761.8,93.4 758.6,98.2 751.8,96.3" fill="#d0dde6"/><polygon points="755.5,92.2 760.3,93.2 758.0,95.9 753.3,94.9" fill="#e4ecf1"/><polygon points="762.9,87.5 770.5,89.0 766.9,93.4 759.3,91.9" fill="#b9cddb"/><polygon points="763.5,88.1 768.8,88.9 766.3,91.3 760.9,90.5" fill="#d3e0e9"/><polygon points="767.5,96.5 774.3,98.4 771.1,103.3 764.3,101.4" fill="#c3d4e0"/><polygon points="768.0,97.2 772.8,98.2 770.5,100.9 765.8,99.9" fill="#dbe6ed"/><polygon points="776.2,88.5 783.0,89.9 779.8,93.8 773.0,92.4" fill="#d0dde6"/><polygon points="776.7,89.0 781.5,89.7 779.3,91.9 774.5,91.2" fill="#e4ecf1"/><polygon points="781.6,97.7 789.3,99.4 785.7,103.9 778.0,102.1" fill="#b9cddb"/><polygon points="782.2,98.3 787.6,99.3 785.0,101.7 779.7,100.8" fill="#d3e0e9"/><polygon points="788.3,88.8 794.3,90.5 791.5,95.1 785.5,93.4" fill="#c3d4e0"/><polygon points="788.8,89.4 792.9,90.3 791.0,92.9 786.8,92.0" fill="#dbe6ed"/><polygon points="795.6,95.8 803.6,97.5 799.8,102.2 791.8,100.4" fill="#d0dde6"/><polygon points="796.2,96.4 801.8,97.4 799.2,99.9 793.5,98.9" fill="#e4ecf1"/><polygon points="799.8,87.6 806.1,89.1 803.1,93.2 796.8,91.7" fill="#b9cddb"/><polygon points="800.3,88.1 804.7,88.9 802.6,91.2 798.2,90.4" fill="#d3e0e9"/><polygon points="758.3,100.5 764.3,102.1 761.5,106.1 755.5,104.5" fill="#c3d4e0"/><polygon points="758.8,101.0 762.9,101.9 761.0,104.1 756.8,103.2" fill="#dbe6ed"/><polygon points="798.3,85.0 801.4,84.9 801.4,86.5 798.3,86.6" fill="#e8702a"/><polygon points="802.4,84.8 805.8,84.7 805.8,86.3 802.4,86.5" fill="#e8702a"/><polygon points="745.5,107.1 764.3,107.0 764.3,108.5 745.5,108.6" fill="#f2e9e4"/><polygon points="764.3,107.0 785.5,106.9 785.5,108.5 764.3,108.5" fill="#8fcbae"/><polygon points="785.5,106.9 808.0,106.8 808.0,108.4 785.5,108.5" fill="#6bcfd6"/><polygon points="745.5,108.6 793.3,108.5 793.3,120.1 745.5,119.3" fill="#efecb0"/><polygon points="745.5,108.6 793.3,108.5 793.3,109.5 745.5,109.5" fill="#8b4a1e"/><line x1="745.5" y1="111.7" x2="793.3" y2="111.9" stroke="#c9c27a" stroke-width="0.35"/><line x1="745.5" y1="113.7" x2="793.3" y2="114.1" stroke="#c9c27a" stroke-width="0.35"/><line x1="745.5" y1="115.8" x2="793.3" y2="116.3" stroke="#c9c27a" stroke-width="0.35"/><line x1="745.5" y1="117.6" x2="793.3" y2="118.3" stroke="#c9c27a" stroke-width="0.35"/><line x1="748.6" y1="109.5" x2="748.6" y2="119.3" stroke="#cfc98a" stroke-width="0.35"/><line x1="754.3" y1="109.5" x2="754.3" y2="119.4" stroke="#cfc98a" stroke-width="0.35"/><line x1="761.1" y1="109.5" x2="761.1" y2="119.5" stroke="#cfc98a" stroke-width="0.35"/><line x1="766.1" y1="109.5" x2="766.1" y2="119.6" stroke="#cfc98a" stroke-width="0.35"/><line x1="771.1" y1="109.5" x2="771.1" y2="119.7" stroke="#cfc98a" stroke-width="0.35"/><line x1="774.3" y1="109.5" x2="774.3" y2="119.7" stroke="#cfc98a" stroke-width="0.35"/><line x1="778.0" y1="109.5" x2="778.0" y2="119.8" stroke="#cfc98a" stroke-width="0.35"/><line x1="781.8" y1="109.5" x2="781.8" y2="119.9" stroke="#cfc98a" stroke-width="0.35"/><polygon points="761.8,109.9 765.5,109.9 765.5,119.4 761.8,119.3" fill="#f6f4d8"/><polygon points="774.9,109.9 777.4,109.9 777.4,119.6 774.9,119.6" fill="#f6f4d8"/><polygon points="783.0,110.1 791.8,110.1 791.8,111.3 783.0,111.2" fill="#d9873a"/><polygon points="749.3,110.1 753.0,110.1 753.0,111.0 749.3,111.0" fill="#b9b37a"/><polygon points="754.9,110.1 757.4,110.1 757.4,111.0 754.9,111.0" fill="#a55"/><polygon points="783.0,112.2 791.8,112.3 791.8,113.5 783.0,113.4" fill="#d9873a"/><polygon points="749.3,112.1 753.0,112.1 753.0,113.0 749.3,113.0" fill="#b9b37a"/><polygon points="754.9,112.1 757.4,112.1 757.4,113.1 754.9,113.1" fill="#a55"/><polygon points="783.0,114.4 791.8,114.5 791.8,115.6 783.0,115.6" fill="#d9873a"/><polygon points="749.3,114.1 753.0,114.2 753.0,115.1 749.3,115.1" fill="#b9b37a"/><polygon points="754.9,114.2 757.4,114.2 757.4,115.1 754.9,115.1" fill="#a55"/><polygon points="783.0,116.5 791.8,116.6 791.8,117.8 783.0,117.7" fill="#d9873a"/><polygon points="749.3,116.2 753.0,116.2 753.0,117.1 749.3,117.1" fill="#b9b37a"/><polygon points="754.9,116.2 757.4,116.3 757.4,117.2 754.9,117.2" fill="#a55"/><polygon points="783.0,118.5 791.8,118.6 791.8,119.8 783.0,119.7" fill="#d9873a"/><polygon points="749.3,118.0 753.0,118.1 753.0,119.0 749.3,118.9" fill="#b9b37a"/><polygon points="754.9,118.1 757.4,118.1 757.4,119.1 754.9,119.0" fill="#a55"/><polygon points="793.3,108.5 795.0,108.5 795.0,120.1 793.3,120.1" fill="#5a5a5a"/><polygon points="795.0,108.5 808.0,108.4 808.0,124.2 795.0,123.9" fill="#ececec"/><polygon points="796.1,110.1 807.1,110.1 807.1,111.7 796.1,111.7" fill="#9a9a9a"/><polygon points="796.1,112.5 807.1,112.5 807.1,114.2 796.1,114.1" fill="#9a9a9a"/><polygon points="796.1,115.5 807.1,115.6 807.1,117.2 796.1,117.1" fill="#9a9a9a"/><polygon points="796.1,119.9 807.1,120.1 807.1,123.2 796.1,122.9" fill="#c6c6c6" stroke="#777" stroke-width="0.3"/><polygon points="745.5,119.3 793.3,120.1 793.3,121.7 745.5,120.7" fill="#9b9b9b"/><polygon points="773.6,119.7 791.8,120.0 791.8,121.6 773.6,121.3" fill="#4c4c4c"/><polygon points="745.5,120.7 795.0,121.7 795.0,123.9 745.5,122.7" fill="#f4f4ee"/><polygon points="745.5,120.9 754.3,121.1 754.3,123.0 745.5,122.7" fill="#dedede"/></g><polygon points="744.9,126.2 751.0,126.4 751.0,127.5 744.9,127.3" fill="#b8bcc0"/><polygon points="795.2,127.9 796.9,128.0 796.9,129.4 795.2,129.3" fill="#3f8fdc"/><polygon points="801.1,128.1 802.7,128.2 802.7,129.6 801.1,129.5" fill="#3f8fdc"/><polygon points="806.8,128.3 808.5,128.3 808.5,129.8 806.8,129.7" fill="#3f8fdc"/><polygon points="907.1,71.4 909.3,72.9 909.3,127.7 907.1,129.2" fill="url(#medge)"/><polygon points="831.4,76.4 907.1,71.4 907.1,129.2 831.4,126.1" fill="url(#bezel)"/><polygon points="831.4,76.4 907.1,71.4 907.1,73.4 831.4,78.1" fill="#59626a"/><g filter="url(#soft)"><polygon points="837.3,82.3 899.8,79.5 899.8,120.5 837.3,119.0" fill="#dfe8ec"/><polygon points="837.3,82.3 899.8,79.5 899.8,103.3 837.3,103.6" fill="#e1eaef"/><polygon points="843.3,82.0 856.1,83.7 850.1,89.2 837.3,87.4" fill="#f1f5f7"/><polygon points="862.5,88.1 876.1,90.2 869.7,96.4 856.1,94.2" fill="#f1f5f7"/><polygon points="877.9,80.5 891.1,81.7 884.9,86.1 871.7,84.8" fill="#f1f5f7"/><polygon points="841.3,97.7 849.8,99.8 845.8,105.1 837.3,102.9" fill="#f1f5f7"/><polygon points="869.6,97.2 882.3,99.1 876.3,104.2 863.6,102.2" fill="#f1f5f7"/><polygon points="889.6,93.6 899.8,96.1 895.0,102.5 884.8,99.9" fill="#f1f5f7"/><polygon points="841.8,93.2 847.3,95.3 844.7,100.6 839.2,98.4" fill="#c3d4e0"/><polygon points="842.2,93.9 846.1,95.1 844.3,98.0 840.4,96.8" fill="#dbe6ed"/><polygon points="846.8,87.9 853.6,89.7 850.4,94.5 843.6,92.6" fill="#d0dde6"/><polygon points="847.3,88.5 852.1,89.5 849.8,92.2 845.1,91.2" fill="#e4ecf1"/><polygon points="854.7,83.8 862.3,85.3 858.7,89.7 851.1,88.2" fill="#b9cddb"/><polygon points="855.3,84.4 860.6,85.2 858.1,87.6 852.7,86.8" fill="#d3e0e9"/><polygon points="859.3,92.8 866.1,94.7 862.9,99.6 856.1,97.7" fill="#c3d4e0"/><polygon points="859.8,93.5 864.6,94.5 862.3,97.2 857.6,96.2" fill="#dbe6ed"/><polygon points="868.0,84.8 874.8,86.2 871.6,90.1 864.8,88.7" fill="#d0dde6"/><polygon points="868.5,85.3 873.3,86.0 871.1,88.2 866.3,87.5" fill="#e4ecf1"/><polygon points="873.4,94.0 881.1,95.7 877.5,100.2 869.8,98.4" fill="#b9cddb"/><polygon points="874.0,94.6 879.4,95.6 876.8,98.0 871.5,97.1" fill="#d3e0e9"/><polygon points="880.1,85.1 886.1,86.8 883.3,91.4 877.3,89.7" fill="#c3d4e0"/><polygon points="880.6,85.7 884.7,86.6 882.8,89.2 878.6,88.3" fill="#dbe6ed"/><polygon points="887.4,92.1 895.4,93.8 891.6,98.5 883.6,96.7" fill="#d0dde6"/><polygon points="888.0,92.7 893.6,93.7 891.0,96.2 885.3,95.2" fill="#e4ecf1"/><polygon points="891.6,83.9 897.9,85.4 894.9,89.5 888.6,88.0" fill="#b9cddb"/><polygon points="892.1,84.4 896.5,85.2 894.4,87.5 890.0,86.7" fill="#d3e0e9"/><polygon points="850.1,96.8 856.1,98.4 853.3,102.4 847.3,100.8" fill="#c3d4e0"/><polygon points="850.6,97.3 854.7,98.2 852.8,100.4 848.6,99.5" fill="#dbe6ed"/><polygon points="890.1,81.3 893.2,81.2 893.2,82.8 890.1,82.9" fill="#e8702a"/><polygon points="894.2,81.1 897.6,81.0 897.6,82.6 894.2,82.8" fill="#e8702a"/><polygon points="837.3,103.4 856.1,103.3 856.1,104.8 837.3,104.9" fill="#f2e9e4"/><polygon points="856.1,103.3 877.3,103.2 877.3,104.8 856.1,104.8" fill="#8fcbae"/><polygon points="877.3,103.2 899.8,103.1 899.8,104.7 877.3,104.8" fill="#6bcfd6"/><polygon points="837.3,104.9 885.1,104.8 885.1,116.4 837.3,115.6" fill="#efecb0"/><polygon points="837.3,104.9 885.1,104.8 885.1,105.8 837.3,105.8" fill="#8b4a1e"/><line x1="837.3" y1="108.0" x2="885.1" y2="108.2" stroke="#c9c27a" stroke-width="0.35"/><line x1="837.3" y1="110.0" x2="885.1" y2="110.4" stroke="#c9c27a" stroke-width="0.35"/><line x1="837.3" y1="112.1" x2="885.1" y2="112.6" stroke="#c9c27a" stroke-width="0.35"/><line x1="837.3" y1="113.9" x2="885.1" y2="114.6" stroke="#c9c27a" stroke-width="0.35"/><line x1="840.4" y1="105.8" x2="840.4" y2="115.6" stroke="#cfc98a" stroke-width="0.35"/><line x1="846.1" y1="105.8" x2="846.1" y2="115.7" stroke="#cfc98a" stroke-width="0.35"/><line x1="852.9" y1="105.8" x2="852.9" y2="115.8" stroke="#cfc98a" stroke-width="0.35"/><line x1="857.9" y1="105.8" x2="857.9" y2="115.9" stroke="#cfc98a" stroke-width="0.35"/><line x1="862.9" y1="105.8" x2="862.9" y2="116.0" stroke="#cfc98a" stroke-width="0.35"/><line x1="866.1" y1="105.8" x2="866.1" y2="116.0" stroke="#cfc98a" stroke-width="0.35"/><line x1="869.8" y1="105.8" x2="869.8" y2="116.1" stroke="#cfc98a" stroke-width="0.35"/><line x1="873.6" y1="105.8" x2="873.6" y2="116.2" stroke="#cfc98a" stroke-width="0.35"/><polygon points="853.6,106.2 857.3,106.2 857.3,115.7 853.6,115.6" fill="#f6f4d8"/><polygon points="866.7,106.2 869.2,106.2 869.2,115.9 866.7,115.9" fill="#f6f4d8"/><polygon points="874.8,106.4 883.6,106.4 883.6,107.6 874.8,107.5" fill="#d9873a"/><polygon points="841.1,106.4 844.8,106.4 844.8,107.3 841.1,107.3" fill="#b9b37a"/><polygon points="846.7,106.4 849.2,106.4 849.2,107.3 846.7,107.3" fill="#a55"/><polygon points="874.8,108.5 883.6,108.6 883.6,109.8 874.8,109.7" fill="#d9873a"/><polygon points="841.1,108.4 844.8,108.4 844.8,109.3 841.1,109.3" fill="#b9b37a"/><polygon points="846.7,108.4 849.2,108.4 849.2,109.4 846.7,109.4" fill="#a55"/><polygon points="874.8,110.7 883.6,110.8 883.6,111.9 874.8,111.9" fill="#d9873a"/><polygon points="841.1,110.4 844.8,110.5 844.8,111.4 841.1,111.4" fill="#b9b37a"/><polygon points="846.7,110.5 849.2,110.5 849.2,111.4 846.7,111.4" fill="#a55"/><polygon points="874.8,112.8 883.6,112.9 883.6,114.1 874.8,114.0" fill="#d9873a"/><polygon points="841.1,112.5 844.8,112.5 844.8,113.4 841.1,113.4" fill="#b9b37a"/><polygon points="846.7,112.5 849.2,112.6 849.2,113.5 846.7,113.5" fill="#a55"/><polygon points="874.8,114.8 883.6,114.9 883.6,116.1 874.8,116.0" fill="#d9873a"/><polygon points="841.1,114.3 844.8,114.4 844.8,115.3 841.1,115.2" fill="#b9b37a"/><polygon points="846.7,114.4 849.2,114.4 849.2,115.4 846.7,115.3" fill="#a55"/><polygon points="885.1,104.8 886.8,104.8 886.8,116.4 885.1,116.4" fill="#5a5a5a"/><polygon points="886.8,104.8 899.8,104.7 899.8,120.5 886.8,120.2" fill="#ececec"/><polygon points="887.9,106.4 898.9,106.4 898.9,108.0 887.9,108.0" fill="#9a9a9a"/><polygon points="887.9,108.8 898.9,108.8 898.9,110.5 887.9,110.4" fill="#9a9a9a"/><polygon points="887.9,111.8 898.9,111.9 898.9,113.5 887.9,113.4" fill="#9a9a9a"/><polygon points="887.9,116.2 898.9,116.4 898.9,119.5 887.9,119.2" fill="#c6c6c6" stroke="#777" stroke-width="0.3"/><polygon points="837.3,115.6 885.1,116.4 885.1,118.0 837.3,117.0" fill="#9b9b9b"/><polygon points="865.4,116.0 883.6,116.3 883.6,117.9 865.4,117.6" fill="#4c4c4c"/><polygon points="837.3,117.0 886.8,118.0 886.8,120.2 837.3,119.0" fill="#f4f4ee"/><polygon points="837.3,117.2 846.1,117.4 846.1,119.3 837.3,119.0" fill="#dedede"/></g><polygon points="836.7,122.5 842.8,122.7 842.8,123.8 836.7,123.6" fill="#b8bcc0"/><polygon points="887.0,124.2 888.7,124.3 888.7,125.7 887.0,125.6" fill="#3f8fdc"/><polygon points="892.9,124.4 894.5,124.5 894.5,125.9 892.9,125.8" fill="#3f8fdc"/><polygon points="898.6,124.6 900.3,124.6 900.3,126.1 898.6,126.0" fill="#3f8fdc"/><g filter="url(#soft)"><polygon points="244.3,188.4 297.8,184.2 331.3,195.9 251.9,200.9" fill="#e1e1d1"/><polygon points="244.3,188.4 251.9,200.9 252.7,241.0 245.3,224.0" fill="#a9a996"/><polygon points="251.9,200.9 331.3,195.9 332.9,229.3 252.7,241.0" fill="url(#ipcf)"/><line x1="251.9" y1="200.9" x2="331.3" y2="195.9" stroke="#f0f0e4" stroke-width="0.7"/><polygon points="252.4,204.9 256.4,204.6 257.1,237.6 253.0,238.1" fill="#e9e9dc" stroke="#b5b5a2" stroke-width="0.4"/><polygon points="327.1,199.6 331.1,199.3 332.4,227.0 328.4,227.6" fill="#e9e9dc" stroke="#b5b5a2" stroke-width="0.4"/><polygon points="259.5,203.2 290.9,201.0 291.8,227.9 260.1,232.0" fill="#d6d6c4" stroke="#b9b9a6" stroke-width="0.4"/><polygon points="297.2,200.6 326.2,198.6 327.3,222.6 298.1,226.3" fill="#d6d6c4" stroke="#b9b9a6" stroke-width="0.4"/><polygon points="265.6,207.1 285.5,205.5 285.6,209.6 265.7,211.3" fill="#8f8f86"/><polygon points="265.7,213.1 285.6,211.3 285.8,215.4 265.8,217.4" fill="#8f8f86"/><polygon points="265.9,219.1 285.8,217.1 285.9,221.2 266.0,223.4" fill="#8f8f86"/><polygon points="266.0,225.2 286.0,222.8 286.1,227.0 266.1,229.5" fill="#8f8f86"/><polygon points="274.7,207.1 276.3,207.0 276.4,209.7 274.8,209.8" fill="#f4f4f4"/><polygon points="301.1,206.8 322.5,205.0 322.7,208.6 301.2,210.6" fill="#8f8f86"/><polygon points="301.2,212.2 322.8,210.1 322.9,213.7 301.4,216.0" fill="#8f8f86"/><polygon points="301.4,217.6 323.0,215.3 323.2,218.9 301.6,221.4" fill="#8f8f86"/><polygon points="260.1,232.0 291.8,227.9 291.9,233.6 260.3,238.1" fill="#23242e"/><polygon points="298.1,226.3 326.5,222.7 326.8,228.0 298.3,232.0" fill="#23242e"/><polygon points="268.6,233.0 287.0,230.6 287.1,232.4 268.6,235.0" fill="#b9bcc6"/><polygon points="315.0,225.9 324.6,224.7 324.7,226.2 315.1,227.5" fill="#b9bcc6"/><circle cx="311.3" cy="202.6" r="1.5" fill="#efefe6" stroke="#8c8c80" stroke-width="0.4"/><polygon points="294.0,209.2 295.1,209.1 295.2,211.0 294.0,211.1" fill="#9a7d6a"/><polygon points="294.2,216.6 295.4,216.4 295.5,218.3 294.3,218.4" fill="#9a7d6a"/><polygon points="294.4,222.4 295.6,222.3 295.7,224.1 294.5,224.2" fill="#9a7d6a"/></g><g filter="url(#soft)"><polygon points="623.4,201.7 655.2,195.9 699.4,195.9 681.9,205.1" fill="#34363a"/><polygon points="681.9,205.1 699.4,195.9 699.4,226.0 682.7,248.5" fill="#18191b"/><polygon points="620.0,203.4 681.9,205.1 682.7,248.5 620.0,239.3" fill="#1d1e21"/><polygon points="621.9,204.2 654.1,205.1 654.1,208.3 621.9,207.1" fill="#2c2f35"/><polygon points="621.9,204.5 625.0,204.6 625.0,206.5 621.9,206.3" fill="#4d86c9"/><polygon points="625.3,210.9 636.8,211.4 636.8,216.8 625.3,216.0" fill="#2b2d31"/><polygon points="628.4,212.3 632.1,212.5 632.1,215.1 628.4,214.9" fill="#3169a8"/><polygon points="638.0,211.5 649.5,212.1 649.5,217.6 638.0,216.8" fill="#2b2d31"/><polygon points="641.1,213.0 644.8,213.2 644.9,215.9 641.1,215.7" fill="#3169a8"/><polygon points="637.1,211.5 637.8,211.5 637.8,216.8 637.1,216.8" fill="#8c5a3a"/><polygon points="649.8,212.1 650.5,212.2 650.6,217.7 649.8,217.6" fill="#8c5a3a"/><polygon points="625.3,217.2 636.8,218.1 636.8,223.4 625.3,222.4" fill="#2b2d31"/><polygon points="628.4,218.8 632.1,219.1 632.1,221.7 628.4,221.3" fill="#3169a8"/><polygon points="638.0,218.2 649.5,219.0 649.6,224.5 638.1,223.5" fill="#2b2d31"/><polygon points="641.2,219.7 644.9,220.0 644.9,222.8 641.2,222.4" fill="#3169a8"/><polygon points="637.1,218.1 637.9,218.2 637.9,223.5 637.1,223.4" fill="#8c5a3a"/><polygon points="649.9,219.0 650.6,219.1 650.7,224.6 649.9,224.6" fill="#8c5a3a"/><polygon points="625.3,223.6 636.8,224.7 636.9,230.0 625.3,228.8" fill="#2b2d31"/><polygon points="628.4,225.2 632.2,225.6 632.2,228.2 628.4,227.8" fill="#3169a8"/><polygon points="638.1,224.8 649.6,225.9 649.7,231.4 638.1,230.2" fill="#2b2d31"/><polygon points="641.2,226.5 644.9,226.8 645.0,229.6 641.2,229.2" fill="#3169a8"/><polygon points="637.1,224.7 637.9,224.8 637.9,230.1 637.2,230.1" fill="#8c5a3a"/><polygon points="649.9,225.9 650.7,226.0 650.7,231.6 650.0,231.5" fill="#8c5a3a"/><polygon points="625.3,230.0 636.9,231.4 636.9,236.7 625.3,235.1" fill="#2b2d31"/><polygon points="628.4,231.7 632.2,232.1 632.2,234.7 628.4,234.3" fill="#3169a8"/><polygon points="638.1,231.5 649.7,232.8 649.7,238.3 638.2,236.8" fill="#2b2d31"/><polygon points="641.3,233.2 645.0,233.6 645.0,236.4 641.3,235.9" fill="#3169a8"/><polygon points="637.2,231.4 637.9,231.5 638.0,236.8 637.2,236.7" fill="#8c5a3a"/><polygon points="650.0,232.9 650.7,232.9 650.8,238.5 650.0,238.4" fill="#8c5a3a"/><polygon points="655.0,208.8 678.0,209.7 678.6,244.9 655.4,241.7" fill="#111214" stroke="#2e3034" stroke-width="0.5"/><line x1="655.1" y1="218.8" x2="678.1" y2="220.4" stroke="#2e3034" stroke-width="0.5"/><line x1="655.3" y1="229.2" x2="678.3" y2="231.6" stroke="#2e3034" stroke-width="0.5"/><line x1="666.5" y1="209.2" x2="667.0" y2="243.3" stroke="#26282b" stroke-width="0.4"/><rect x="616.6" y="211.5" width="6.2" height="19" rx="2" fill="#1b1c1e" stroke="#3b3d41" stroke-width="0.6"/><polygon points="678.6,213.6 681.7,213.8 682.3,242.4 679.1,242.0" fill="#0d0d0e" stroke="#3b3d41" stroke-width="0.5"/></g><g filter="url(#soft)"><rect x="0.6" y="348.6" width="5.6" height="17.8" rx="0.8" fill="#e9ebec" stroke="#d3d6d8" stroke-width="0.4"/><path d="M6 348 L28 348 Q33.4 348.2 33.2 351.6 Q33 354.6 29.6 354.8 L24.4 353.6 L6 364.4 Z" fill="url(#armg)"/><path d="M6 364.4 L24.4 353.6 L25.4 355 L6 365.6 Z" fill="#cfd2d4"/><path d="M24.6 353.4 L32.6 353.4 L34.4 357.4 L22.6 357.4 Z" fill="#e4e6e7"/><path d="M22.4 357 Q28.6 355.2 35 357 Q39.6 360.6 41.6 366.4 L17.2 366.4 Q19 360.6 22.4 357 Z" fill="url(#domeg)"/><path d="M17.4 365.4 Q29.4 363.2 41.4 365.4 L41.8 367 Q29.4 364.8 17 367 Z" fill="#b3b6b9"/><path d="M17.2 366.6 Q29.4 364.6 41.6 366.6 Q45.6 376 45.8 388 Q29 391.6 12.4 388 Q12.8 376 17.2 366.6 Z" fill="url(#domeg)"/><path d="M12.4 387.6 Q29 391.4 45.8 387.6 L45.6 390.6 Q29 394.4 12.6 390.6 Z" fill="#c3c6c8"/><path d="M16.4 391.4 Q29 394.6 42.2 391.4 Q41 403.2 29.2 403.6 Q17.6 403.2 16.4 391.4 Z" fill="url(#lensg)"/><ellipse cx="29.6" cy="396.4" rx="7.8" ry="4.6" fill="#2b2d30" opacity="0.8"/><ellipse cx="32" cy="395.2" rx="2.4" ry="1.7" fill="#8e4a3c"/><rect x="30.2" y="385.4" width="6.4" height="1" fill="#5d6064"/></g><g transform="translate(1079.9 -1.3) scale(-0.885 1)"><g filter="url(#soft)"><rect x="0.6" y="348.6" width="5.6" height="17.8" rx="0.8" fill="#e9ebec" stroke="#d3d6d8" stroke-width="0.4"/><path d="M6 348 L28 348 Q33.4 348.2 33.2 351.6 Q33 354.6 29.6 354.8 L24.4 353.6 L6 364.4 Z" fill="url(#armg)"/><path d="M6 364.4 L24.4 353.6 L25.4 355 L6 365.6 Z" fill="#cfd2d4"/><path d="M24.6 353.4 L32.6 353.4 L34.4 357.4 L22.6 357.4 Z" fill="#e4e6e7"/><path d="M22.4 357 Q28.6 355.2 35 357 Q39.6 360.6 41.6 366.4 L17.2 366.4 Q19 360.6 22.4 357 Z" fill="url(#domeg)"/><path d="M17.4 365.4 Q29.4 363.2 41.4 365.4 L41.8 367 Q29.4 364.8 17 367 Z" fill="#b3b6b9"/><path d="M17.2 366.6 Q29.4 364.6 41.6 366.6 Q45.6 376 45.8 388 Q29 391.6 12.4 388 Q12.8 376 17.2 366.6 Z" fill="url(#domeg)"/><path d="M12.4 387.6 Q29 391.4 45.8 387.6 L45.6 390.6 Q29 394.4 12.6 390.6 Z" fill="#c3c6c8"/><path d="M16.4 391.4 Q29 394.6 42.2 391.4 Q41 403.2 29.2 403.6 Q17.6 403.2 16.4 391.4 Z" fill="url(#lensg)"/><ellipse cx="29.6" cy="396.4" rx="7.8" ry="4.6" fill="#2b2d30" opacity="0.8"/><ellipse cx="32" cy="395.2" rx="2.4" ry="1.7" fill="#8e4a3c"/><rect x="30.2" y="385.4" width="6.4" height="1" fill="#5d6064"/></g></g><g filter="url(#soft)"><path d="M148.4 380.4 L157 379.4 L166.9 380.6 L166.9 385.6 L157.5 386.6 L148.4 385.4 Z" fill="#2f9a62"/><path d="M148.4 380.4 L157 379.4 L166.9 380.6 L157.6 381.9 Z" fill="#55b883"/><rect x="169.3" y="380.8" width="10.6" height="2.6" fill="#b79a52"/><polygon points="141.4,386.7 167.6,385.4 186.6,383.2 160.0,384.2" fill="#dcd7cc"/><polygon points="167.6,385.4 186.6,383.2 186.6,450.0 167.6,457.9" fill="url(#gwside)"/><polygon points="141.4,386.7 167.6,385.4 167.6,457.9 141.4,455.5" fill="#b9b3a6"/><polygon points="143.0,388.7 166.0,387.6 166.0,455.9 143.0,453.9" fill="#3f485d"/><polygon points="145.9,393.1 148.7,393.0 148.7,395.8 145.9,395.9" fill="#e8ebef"/><polygon points="149.8,393.3 160.3,392.9 160.3,395.1 149.8,395.4" fill="#c5cad3"/><polygon points="145.1,399.7 151.4,399.5 151.4,401.3 145.1,401.4" fill="#98a1b1"/><polygon points="145.1,402.8 151.4,402.7 151.4,404.5 145.1,404.5" fill="#98a1b1"/><polygon points="145.1,405.9 151.4,405.9 151.4,407.6 145.1,407.7" fill="#98a1b1"/><polygon points="145.1,409.0 151.4,409.0 151.4,410.8 145.1,410.8" fill="#98a1b1"/><polygon points="152.4,405.1 160.8,405.1 160.8,453.3 152.4,452.6" fill="#3bb26f"/><line x1="152.4" y1="405.1" x2="160.3" y2="405.1" stroke="#1f7f4b" stroke-width="0.4"/><line x1="152.4" y1="416.8" x2="160.3" y2="416.9" stroke="#1f7f4b" stroke-width="0.4"/><line x1="152.4" y1="428.5" x2="160.3" y2="428.8" stroke="#1f7f4b" stroke-width="0.4"/><line x1="152.4" y1="440.2" x2="160.3" y2="440.6" stroke="#1f7f4b" stroke-width="0.4"/><polygon points="152.7,406.6 155.0,406.5 155.0,451.8 152.7,451.6" fill="#2a8f57"/><polygon points="144.0,420.5 152.4,420.6 152.4,428.7 144.0,428.4" fill="#cfd3d8"/><polygon points="145.2,421.6 151.2,421.7 151.2,426.3 145.2,426.1" fill="#1f2a3a"/><polygon points="146.9,426.1 149.6,426.2 149.6,427.8 146.9,427.7" fill="#1f2a3a"/><polygon points="144.0,430.5 152.4,430.8 152.4,438.9 144.0,438.4" fill="#cfd3d8"/><polygon points="145.2,431.7 151.2,431.9 151.2,436.4 145.2,436.1" fill="#1f2a3a"/><polygon points="146.9,436.2 149.6,436.3 149.6,438.0 146.9,437.8" fill="#1f2a3a"/><polygon points="144.0,440.9 152.4,441.4 152.4,449.5 144.0,448.8" fill="#cfd3d8"/><polygon points="145.2,442.1 151.2,442.4 151.2,447.0 145.2,446.5" fill="#1f2a3a"/><polygon points="146.9,446.6 149.6,446.8 149.6,448.4 146.9,448.2" fill="#1f2a3a"/></g><g filter="url(#soft)"><polygon points="503.3,391.1 541.0,375.6 554.4,377.8 517.8,394.4" fill="#eadbc2"/><path d="M512.4 380.4 L522.5 377.4 L527.8 379 L527.8 386.6 L518 390.4 L512.4 388.4 Z" fill="#3aa868"/><path d="M512.4 380.4 L522.5 377.4 L527.8 379 L518 382.4 Z" fill="#63c48e"/><rect x="528.6" y="379.8" width="3" height="7.2" fill="#b8964a"/><ellipse cx="538.6" cy="379.4" rx="2.9" ry="1.9" fill="#2a2a2c"/><ellipse cx="544.6" cy="377.9" rx="2.9" ry="1.9" fill="#2a2a2c"/><ellipse cx="514.5" cy="390.6" rx="3.4" ry="1.7" fill="#2a2a2c"/><polygon points="503.3,391.1 517.8,394.4 517.8,466.7 504.2,462.2" fill="#cbb694"/><polygon points="509.0,410.6 510.1,410.9 510.1,412.0 509.0,411.7" fill="#7b6a50"/><polygon points="508.1,412.2 509.3,412.5 509.3,413.5 508.1,413.2" fill="#7b6a50"/><polygon points="509.0,414.2 510.1,414.5 510.1,415.5 509.0,415.3" fill="#7b6a50"/><polygon points="510.7,411.0 511.8,411.3 511.8,412.4 510.7,412.1" fill="#7b6a50"/><polygon points="509.8,412.6 511.0,412.9 511.0,414.0 509.8,413.7" fill="#7b6a50"/><polygon points="510.7,414.6 511.8,414.9 511.8,416.0 510.7,415.7" fill="#7b6a50"/><polygon points="512.4,411.5 513.5,411.8 513.5,412.8 512.4,412.5" fill="#7b6a50"/><polygon points="511.5,413.0 512.7,413.3 512.7,414.4 511.5,414.1" fill="#7b6a50"/><polygon points="512.4,415.1 513.5,415.4 513.5,416.4 512.4,416.1" fill="#7b6a50"/><polygon points="509.2,447.1 510.3,447.4 510.3,448.5 509.2,448.2" fill="#7b6a50"/><polygon points="508.4,448.6 509.5,449.0 509.5,450.0 508.4,449.7" fill="#7b6a50"/><polygon points="509.3,450.7 510.4,451.0 510.4,452.1 509.3,451.7" fill="#7b6a50"/><polygon points="510.9,447.6 512.0,447.9 512.0,449.0 510.9,448.7" fill="#7b6a50"/><polygon points="510.1,449.1 511.2,449.5 511.2,450.6 510.1,450.2" fill="#7b6a50"/><polygon points="510.9,451.2 512.0,451.5 512.0,452.6 510.9,452.3" fill="#7b6a50"/><polygon points="512.6,448.1 513.7,448.4 513.7,449.5 512.6,449.2" fill="#7b6a50"/><polygon points="511.7,449.6 512.8,450.0 512.8,451.1 511.7,450.7" fill="#7b6a50"/><polygon points="512.6,451.7 513.7,452.0 513.7,453.1 512.6,452.8" fill="#7b6a50"/><polygon points="511.5,428.8 513.0,429.2 513.1,436.4 511.5,436.0" fill="#85745a"/><polygon points="506.8,421.8 507.9,422.1 507.9,423.5 506.8,423.2" fill="#4a4034"/><polygon points="506.9,436.1 508.0,436.4 508.1,437.8 506.9,437.5" fill="#4a4034"/><polygon points="504.8,395.0 507.4,395.6 507.5,403.5 504.9,402.8" fill="#e9e4da" stroke="#6f6a5f" stroke-width="0.3"/><polygon points="517.8,394.4 554.4,377.8 554.4,445.6 517.8,466.7" fill="url(#goldR)"/><circle cx="525.5" cy="400.2" r="1.7" fill="#5d6a7c"/><polygon points="528.4,397.8 539.8,392.4 539.8,394.2 528.4,399.5" fill="#6d7686"/><line x1="517.8" y1="394.4" x2="517.8" y2="466.7" stroke="#f0e5d0" stroke-width="0.6"/></g><g filter="url(#soft)"><path d="M862.2 375.2 L869 374 L875.7 375.2 L875.7 380.8 L869 381.8 L862.2 380.6 Z" fill="#2f9a62"/><path d="M862.2 375.2 L869 374 L875.7 375.2 L869 376.5 Z" fill="#55b883"/><rect x="879" y="373.6" width="12" height="5.4" fill="#b89650"/><rect x="882.6" y="373.2" width="1.2" height="6" fill="#6e5a2c"/><rect x="886.6" y="373.2" width="1.2" height="6" fill="#6e5a2c"/><rect x="876.5" y="378" width="4" height="2.6" fill="#2a2a2c"/><polygon points="853.8,381.6 875.6,380.7 897.8,377.8 874.0,378.9" fill="#ddd8cd"/><polygon points="875.6,380.7 897.8,377.8 897.8,454.4 875.6,465.1" fill="url(#gwside)"/><polygon points="853.8,381.6 875.6,380.7 875.6,465.1 854.4,463.4" fill="#d0ccc3"/><polygon points="856.0,384.4 873.4,383.7 873.5,461.1 856.5,459.9" fill="#3e4b66"/><circle cx="864.9" cy="389.9" r="2.3" fill="#f2f4f6"/><circle cx="865.4" cy="389.9" r="1.0" fill="#3e4b66"/><polygon points="861.1,394.9 868.9,394.8 868.9,396.4 861.1,396.6" fill="#b9c0cc"/><polygon points="858.7,406.1 863.1,406.1 863.1,407.1 858.7,407.1" fill="#a4adbc"/><polygon points="865.2,406.1 870.0,406.1 870.0,407.1 865.2,407.1" fill="#a4adbc"/><polygon points="858.8,409.0 863.1,409.0 863.1,410.0 858.8,410.0" fill="#a4adbc"/><polygon points="865.2,409.0 870.0,409.0 870.0,410.0 865.2,410.0" fill="#a4adbc"/><polygon points="858.8,411.9 863.1,411.9 863.1,412.9 858.8,412.9" fill="#a4adbc"/><polygon points="865.2,411.9 870.0,411.9 870.0,412.9 865.2,412.9" fill="#a4adbc"/><polygon points="858.8,414.8 863.1,414.8 863.1,415.8 858.8,415.8" fill="#a4adbc"/><polygon points="865.3,414.8 870.0,414.8 870.0,415.8 865.3,415.8" fill="#a4adbc"/><polygon points="858.8,417.6 863.1,417.7 863.1,418.7 858.8,418.6" fill="#a4adbc"/><polygon points="865.3,417.7 870.0,417.8 870.0,418.8 865.3,418.7" fill="#a4adbc"/><polygon points="860.5,420.6 867.4,420.7 867.4,422.7 860.5,422.6" fill="#d5d9df"/><polygon points="858.2,425.0 867.9,425.3 867.9,435.3 858.3,434.9" fill="#cfd3d8"/><polygon points="859.6,426.5 866.5,426.6 866.5,432.2 859.6,432.0" fill="#1f2a3a"/><polygon points="861.5,432.1 864.6,432.2 864.6,434.2 861.5,434.0" fill="#1f2a3a"/><polygon points="858.3,437.0 867.9,437.4 867.9,447.4 858.3,446.9" fill="#cfd3d8"/><polygon points="859.6,438.4 866.6,438.7 866.6,444.3 859.7,444.0" fill="#1f2a3a"/><polygon points="861.6,444.1 864.7,444.2 864.7,446.2 861.6,446.0" fill="#1f2a3a"/><polygon points="858.3,448.5 867.9,449.0 868.0,459.1 858.4,458.4" fill="#cfd3d8"/><polygon points="859.7,450.0 866.6,450.4 866.6,456.0 859.7,455.5" fill="#1f2a3a"/><polygon points="861.6,455.6 864.7,455.8 864.7,457.8 861.6,457.6" fill="#1f2a3a"/></g><g filter="url(#soft)"><rect x="31" y="458.4" width="42.6" height="60.7" rx="2.2" fill="#ebe8e1" stroke="#cfccc4" stroke-width="0.5"/><circle cx="33.6" cy="461.4" r="1.1" fill="#8d8a83"/><circle cx="71" cy="461.4" r="1.1" fill="#8d8a83"/><rect x="39.2" y="460.8" width="26.8" height="19.8" rx="1" fill="#d2d1cb" stroke="#b5b3ac" stroke-width="0.4"/><rect x="41.2" y="464" width="23.2" height="11.8" fill="url(#lcd)"/><rect x="41.2" y="462" width="23.2" height="1.4" fill="#8b8f88"/><path d="M44 473 L63 467 L63 473.6 L44 474.2 Z" fill="#55733f" opacity="0.55"/><rect x="52.4" y="477.6" width="7.4" height="2.2" rx="1.1" fill="#3b3b3a"/><rect x="41.6" y="478" width="1.6" height="1.6" fill="#45443f"/><rect x="48.8" y="478" width="1.6" height="1.6" fill="#45443f"/><rect x="62.4" y="478" width="1.6" height="1.6" fill="#45443f"/><rect x="33.6" y="483.6" width="33.2" height="20.6" rx="1" fill="#cfccc3" stroke="#b3b0a7" stroke-width="0.4"/><rect x="36" y="489" width="28" height="1" fill="#9d9a92"/><rect x="50" y="486.6" width="3" height="1.2" fill="#45443f"/><rect x="39.2" y="492.6" width="24.4" height="7.2" fill="#f3f2ee" stroke="#a9a69e" stroke-width="0.3"/><rect x="40.6" y="494.4" width="21" height="0.7" fill="#b7b5ae"/><rect x="40.6" y="496.2" width="21" height="0.7" fill="#b7b5ae"/><rect x="40.6" y="498" width="21" height="0.7" fill="#b7b5ae"/><circle cx="65.4" cy="497" r="2.3" fill="#f8f8f6" stroke="#a9a69e" stroke-width="0.4"/><rect x="38" y="501.4" width="24" height="1.3" fill="#6b6963"/><rect x="70" y="494.6" width="1.3" height="5" fill="#b09a62"/><rect x="31.4" y="505.8" width="41.8" height="13" rx="1.6" fill="#a9a8a2"/><rect x="36" y="507.2" width="33" height="9.2" fill="#55554f"/><rect x="38" y="507.2" width="2" height="2.6" fill="#d9d8d2"/><rect x="42" y="507.2" width="2" height="2.6" fill="#d9d8d2"/><rect x="46" y="507.2" width="2" height="2.6" fill="#d9d8d2"/><rect x="52" y="507.2" width="2" height="2.6" fill="#d9d8d2"/><rect x="56" y="507.2" width="2" height="2.6" fill="#d9d8d2"/><rect x="60" y="507.2" width="2" height="2.6" fill="#d9d8d2"/><rect x="64" y="507.2" width="2" height="2.6" fill="#d9d8d2"/><circle cx="52.2" cy="513.4" r="2" fill="#c9c8c2" stroke="#33332f" stroke-width="0.6"/><circle cx="34.4" cy="513.6" r="1.1" fill="#e6e5df"/><circle cx="70.2" cy="513.6" r="1.1" fill="#e6e5df"/></g><g filter="url(#soft)"><circle cx="257.3" cy="460.2" r="7.1" fill="#fff" stroke="#6a6a6a" stroke-width="0.5"/><polygon points="271.2,483.8 284.6,483.8 285.0,494.8 269.6,494.8" fill="#5b6266"/><line x1="276.7" y1="486" x2="257.6" y2="460.6" stroke="#43b0b6" stroke-width="8.6" stroke-linecap="round"/><line x1="257.6" y1="460.4" x2="287.6" y2="458.2" stroke="#43b0b6" stroke-width="7.2" stroke-linecap="round"/><line x1="287.6" y1="458.2" x2="298.6" y2="465.4" stroke="#43b0b6" stroke-width="6.4" stroke-linecap="round"/><line x1="262" y1="478.4" x2="266" y2="474" stroke="#43b0b6" stroke-width="2.4" stroke-linecap="round"/><polygon points="294.4,470.2 303.4,463.0 307.6,468.4 298.8,475.6" fill="#2f8f96"/><polygon points="299.8,473.6 306.8,467.8 309.8,471.4 303.0,477.2" fill="#5b6266"/><path d="M306.4 469.6 L312.2 470.6 Q317 474.6 315.8 482.4 L313.6 481.6 Q314 476.2 310.4 473.8 L307.4 473.4 Z" fill="#43b0b6"/><path d="M301.8 476.8 L304.6 481.4 Q308.6 484.2 312.6 483.8 L312.8 481.6 Q309.4 481.6 306.8 479.6 L304.4 475.2 Z" fill="#43b0b6"/><circle cx="313.2" cy="472.8" r="1.1" fill="#3a3f42"/><circle cx="304.6" cy="480.8" r="1.1" fill="#3a3f42"/><circle cx="257.6" cy="460.5" r="1.5" fill="#fff" stroke="#2f8f96" stroke-width="0.5"/><circle cx="287.8" cy="458.1" r="1.5" fill="#fff" stroke="#2f8f96" stroke-width="0.5"/><circle cx="297.6" cy="464.6" r="1.2" fill="#fff" stroke="#2f8f96" stroke-width="0.5"/><circle cx="276.7" cy="486" r="3.1" fill="#2f8f96"/><circle cx="276.7" cy="486" r="1.7" fill="#e9f3f4"/><circle cx="262.2" cy="478.6" r="0.9" fill="#fff" stroke="#2f8f96" stroke-width="0.4"/><rect x="266" y="495.2" width="24.2" height="7.6" fill="#43b0b6"/><rect x="291.6" y="493.8" width="18.4" height="8.4" fill="#43b0b6"/><rect x="299.6" y="496" width="8" height="3.6" fill="#f4f7f7"/><rect x="293.2" y="495.6" width="1" height="4.4" fill="#e2eeee"/><rect x="295.2" y="495.6" width="1" height="4.4" fill="#e2eeee"/><rect x="297.2" y="495.6" width="1" height="4.4" fill="#e2eeee"/><rect x="265.6" y="502" width="46.6" height="11.6" fill="#43b0b6"/><rect x="265.6" y="502" width="46.6" height="1.2" fill="#2f8f96"/><rect x="291.8" y="505.4" width="18" height="4.2" fill="#cdd13c"/></g><g filter="url(#soft)"><rect x="412.4" y="480" width="6" height="5.4" rx="1" fill="#c9c9c9" stroke="#9b9b9b" stroke-width="0.4"/><rect x="445" y="480.4" width="6.6" height="6" rx="1" fill="#c9c9c9" stroke="#9b9b9b" stroke-width="0.4"/><polygon points="450.6,486.6 458.3,487.4 458.3,521.2 451.2,527.2" fill="#1c1c1d"/><polygon points="454.0,501.0 457.4,500.6 457.4,512.0 454.0,512.8" fill="#8d8d8b"/><polygon points="377.1,484.4 396.9,485.0 397.3,521.1 377.6,518.8" fill="url(#plcg)"/><polygon points="377.1,484.4 396.9,485.0 397.0,489.9 377.2,489.0" fill="#17181a"/><polygon points="380.2,491.4 388.3,491.8 388.3,493.0 380.2,492.6" fill="#3a3a3c"/><line x1="378.0" y1="495.8" x2="396.5" y2="496.9" stroke="#b4b4b4" stroke-width="0.35"/><line x1="378.0" y1="498.2" x2="396.5" y2="499.4" stroke="#b4b4b4" stroke-width="0.35"/><line x1="378.1" y1="500.6" x2="396.5" y2="501.9" stroke="#b4b4b4" stroke-width="0.35"/><line x1="378.1" y1="503.0" x2="396.5" y2="504.4" stroke="#b4b4b4" stroke-width="0.35"/><line x1="378.1" y1="505.4" x2="396.6" y2="507.0" stroke="#b4b4b4" stroke-width="0.35"/><line x1="378.2" y1="507.9" x2="396.6" y2="509.5" stroke="#b4b4b4" stroke-width="0.35"/><line x1="378.2" y1="510.3" x2="396.6" y2="512.0" stroke="#b4b4b4" stroke-width="0.35"/><line x1="378.2" y1="512.7" x2="396.7" y2="514.5" stroke="#b4b4b4" stroke-width="0.35"/><line x1="378.3" y1="515.1" x2="396.7" y2="517.1" stroke="#b4b4b4" stroke-width="0.35"/><polygon points="396.9,485.0 410.4,485.4 410.7,522.7 397.3,521.1" fill="#e0532a"/><polygon points="396.9,485.0 410.4,485.4 410.4,491.0 397.0,490.4" fill="#1b1b1d"/><line x1="403.7" y1="490.7" x2="404.0" y2="521.9" stroke="#b23c1b" stroke-width="0.5"/><circle cx="399.4" cy="493.8" r="1.0" fill="#2a1612"/><polygon points="410.4,485.4 418.5,485.6 418.8,523.6 410.7,522.7" fill="url(#plcg)"/><polygon points="410.4,485.4 418.5,485.6 418.5,492.1 410.4,491.7" fill="#1a1b20"/><polygon points="411.3,486.5 417.6,486.7 417.6,488.4 411.3,488.2" fill="#39456f"/><polygon points="411.9,492.5 416.7,492.8 416.7,493.9 411.9,493.7" fill="#3b3b3d"/><line x1="410.4" y1="491.7" x2="410.7" y2="522.7" stroke="#8f8f8f" stroke-width="0.5"/><line x1="411.1" y1="496.6" x2="418.0" y2="497.0" stroke="#b0b0b0" stroke-width="0.3"/><line x1="411.1" y1="499.1" x2="418.0" y2="499.5" stroke="#b0b0b0" stroke-width="0.3"/><line x1="411.1" y1="501.5" x2="418.0" y2="502.0" stroke="#b0b0b0" stroke-width="0.3"/><line x1="411.1" y1="504.0" x2="418.1" y2="504.5" stroke="#b0b0b0" stroke-width="0.3"/><line x1="411.2" y1="506.5" x2="418.1" y2="507.0" stroke="#b0b0b0" stroke-width="0.3"/><line x1="411.2" y1="508.9" x2="418.1" y2="509.5" stroke="#b0b0b0" stroke-width="0.3"/><line x1="411.2" y1="511.4" x2="418.1" y2="512.0" stroke="#b0b0b0" stroke-width="0.3"/><line x1="411.2" y1="513.9" x2="418.1" y2="514.5" stroke="#b0b0b0" stroke-width="0.3"/><line x1="411.2" y1="516.3" x2="418.2" y2="517.0" stroke="#b0b0b0" stroke-width="0.3"/><line x1="411.3" y1="518.8" x2="418.2" y2="519.5" stroke="#b0b0b0" stroke-width="0.3"/><polygon points="418.5,485.6 426.6,485.9 426.9,524.6 418.8,523.6" fill="url(#plcg)"/><polygon points="418.5,485.6 426.6,485.9 426.7,492.5 418.5,492.1" fill="#1a1b20"/><polygon points="419.4,486.8 425.7,487.0 425.7,488.7 419.4,488.5" fill="#39456f"/><polygon points="420.0,492.9 424.8,493.1 424.8,494.3 420.0,494.1" fill="#3b3b3d"/><line x1="418.5" y1="492.1" x2="418.8" y2="523.6" stroke="#8f8f8f" stroke-width="0.5"/><line x1="419.2" y1="497.1" x2="426.1" y2="497.4" stroke="#b0b0b0" stroke-width="0.3"/><line x1="419.2" y1="499.6" x2="426.1" y2="500.0" stroke="#b0b0b0" stroke-width="0.3"/><line x1="419.2" y1="502.1" x2="426.2" y2="502.5" stroke="#b0b0b0" stroke-width="0.3"/><line x1="419.2" y1="504.6" x2="426.2" y2="505.1" stroke="#b0b0b0" stroke-width="0.3"/><line x1="419.3" y1="507.1" x2="426.2" y2="507.6" stroke="#b0b0b0" stroke-width="0.3"/><line x1="419.3" y1="509.6" x2="426.2" y2="510.2" stroke="#b0b0b0" stroke-width="0.3"/><line x1="419.3" y1="512.1" x2="426.2" y2="512.7" stroke="#b0b0b0" stroke-width="0.3"/><line x1="419.3" y1="514.6" x2="426.3" y2="515.3" stroke="#b0b0b0" stroke-width="0.3"/><line x1="419.3" y1="517.1" x2="426.3" y2="517.8" stroke="#b0b0b0" stroke-width="0.3"/><line x1="419.4" y1="519.7" x2="426.3" y2="520.4" stroke="#b0b0b0" stroke-width="0.3"/><polygon points="426.6,485.9 434.7,486.1 435.0,525.5 426.9,524.6" fill="url(#plcg)"/><polygon points="426.6,485.9 434.7,486.1 434.8,492.8 426.7,492.5" fill="#1a1b20"/><polygon points="427.5,487.1 433.9,487.3 433.9,489.0 427.5,488.8" fill="#39456f"/><polygon points="428.1,493.3 432.9,493.5 433.0,494.7 428.2,494.5" fill="#3b3b3d"/><line x1="426.7" y1="492.5" x2="426.9" y2="524.6" stroke="#8f8f8f" stroke-width="0.5"/><line x1="427.3" y1="497.5" x2="434.2" y2="497.9" stroke="#b0b0b0" stroke-width="0.3"/><line x1="427.3" y1="500.1" x2="434.2" y2="500.5" stroke="#b0b0b0" stroke-width="0.3"/><line x1="427.3" y1="502.6" x2="434.3" y2="503.1" stroke="#b0b0b0" stroke-width="0.3"/><line x1="427.4" y1="505.2" x2="434.3" y2="505.7" stroke="#b0b0b0" stroke-width="0.3"/><line x1="427.4" y1="507.7" x2="434.3" y2="508.3" stroke="#b0b0b0" stroke-width="0.3"/><line x1="427.4" y1="510.3" x2="434.3" y2="510.9" stroke="#b0b0b0" stroke-width="0.3"/><line x1="427.4" y1="512.9" x2="434.3" y2="513.5" stroke="#b0b0b0" stroke-width="0.3"/><line x1="427.4" y1="515.4" x2="434.4" y2="516.1" stroke="#b0b0b0" stroke-width="0.3"/><line x1="427.4" y1="518.0" x2="434.4" y2="518.7" stroke="#b0b0b0" stroke-width="0.3"/><line x1="427.5" y1="520.5" x2="434.4" y2="521.3" stroke="#b0b0b0" stroke-width="0.3"/><polygon points="434.7,486.1 442.9,486.4 443.1,526.5 435.0,525.5" fill="url(#plcg)"/><polygon points="434.7,486.1 442.9,486.4 442.9,493.2 434.8,492.8" fill="#1a1b20"/><polygon points="435.6,487.3 442.0,487.5 442.0,489.3 435.6,489.1" fill="#39456f"/><polygon points="436.3,493.7 441.1,493.9 441.1,495.1 436.3,494.9" fill="#3b3b3d"/><line x1="434.8" y1="492.8" x2="435.0" y2="525.5" stroke="#8f8f8f" stroke-width="0.5"/><line x1="435.4" y1="498.0" x2="442.4" y2="498.4" stroke="#b0b0b0" stroke-width="0.3"/><line x1="435.4" y1="500.6" x2="442.4" y2="501.0" stroke="#b0b0b0" stroke-width="0.3"/><line x1="435.4" y1="503.2" x2="442.4" y2="503.6" stroke="#b0b0b0" stroke-width="0.3"/><line x1="435.5" y1="505.8" x2="442.4" y2="506.3" stroke="#b0b0b0" stroke-width="0.3"/><line x1="435.5" y1="508.4" x2="442.4" y2="508.9" stroke="#b0b0b0" stroke-width="0.3"/><line x1="435.5" y1="511.0" x2="442.4" y2="511.6" stroke="#b0b0b0" stroke-width="0.3"/><line x1="435.5" y1="513.6" x2="442.4" y2="514.2" stroke="#b0b0b0" stroke-width="0.3"/><line x1="435.5" y1="516.2" x2="442.5" y2="516.9" stroke="#b0b0b0" stroke-width="0.3"/><line x1="435.6" y1="518.8" x2="442.5" y2="519.5" stroke="#b0b0b0" stroke-width="0.3"/><line x1="435.6" y1="521.4" x2="442.5" y2="522.1" stroke="#b0b0b0" stroke-width="0.3"/><polygon points="442.9,486.4 451.0,486.6 451.2,527.4 443.1,526.5" fill="url(#plcg)"/><polygon points="442.9,486.4 451.0,486.6 451.0,493.5 442.9,493.2" fill="#1a1b20"/><polygon points="443.8,487.6 450.1,487.8 450.1,489.6 443.8,489.4" fill="#2f8d60"/><polygon points="444.4,494.0 449.2,494.3 449.2,495.5 444.4,495.3" fill="#3b3b3d"/><line x1="442.9" y1="493.2" x2="443.1" y2="526.5" stroke="#8f8f8f" stroke-width="0.5"/><line x1="443.5" y1="498.4" x2="450.5" y2="498.8" stroke="#b0b0b0" stroke-width="0.3"/><line x1="443.5" y1="501.1" x2="450.5" y2="501.5" stroke="#b0b0b0" stroke-width="0.3"/><line x1="443.6" y1="503.7" x2="450.5" y2="504.2" stroke="#b0b0b0" stroke-width="0.3"/><line x1="443.6" y1="506.4" x2="450.5" y2="506.9" stroke="#b0b0b0" stroke-width="0.3"/><line x1="443.6" y1="509.0" x2="450.5" y2="509.6" stroke="#b0b0b0" stroke-width="0.3"/><line x1="443.6" y1="511.7" x2="450.5" y2="512.3" stroke="#b0b0b0" stroke-width="0.3"/><line x1="443.6" y1="514.3" x2="450.5" y2="514.9" stroke="#b0b0b0" stroke-width="0.3"/><line x1="443.6" y1="517.0" x2="450.6" y2="517.6" stroke="#b0b0b0" stroke-width="0.3"/><line x1="443.7" y1="519.6" x2="450.6" y2="520.3" stroke="#b0b0b0" stroke-width="0.3"/><line x1="443.7" y1="522.3" x2="450.6" y2="523.0" stroke="#b0b0b0" stroke-width="0.3"/><line x1="377.6" y1="518.8" x2="451.2" y2="527.4" stroke="#7d7d7d" stroke-width="0.6"/></g><g filter="url(#soft)"><polygon points="660.6,483.6 676.1,481.6 676.1,522.0 660.6,528.1" fill="#d2d2cc"/><line x1="671.6" y1="488" x2="671.6" y2="514" stroke="#a6a6a0" stroke-width="0.35"/><line x1="672.4" y1="488" x2="672.4" y2="514" stroke="#a6a6a0" stroke-width="0.35"/><line x1="673.2" y1="488" x2="673.2" y2="514" stroke="#a6a6a0" stroke-width="0.35"/><line x1="674.0" y1="488" x2="674.0" y2="514" stroke="#a6a6a0" stroke-width="0.35"/><line x1="674.8000000000001" y1="488" x2="674.8000000000001" y2="514" stroke="#a6a6a0" stroke-width="0.35"/><rect x="670.6" y="519.4" width="4.2" height="3.4" fill="#bdbdb7"/><polygon points="593.9,481.4 612.0,479.3 676.1,481.6 660.6,484.4" fill="#ecece7"/><polygon points="593.9,481.4 660.6,484.4 660.6,528.1 593.9,520.2" fill="#e6e6e0"/><polygon points="603.2,482.6 657.6,485.1 657.6,493.6 603.2,490.3" fill="#6f6a5c"/><polygon points="603.2,512.4 658.9,518.1 658.9,527.2 603.2,520.7" fill="#6f6a5c"/><polygon points="603.9,483.0 605.1,483.1 605.1,490.0 603.9,490.0" fill="#cfccbf"/><polygon points="604.6,513.0 605.8,513.1 605.8,520.6 604.6,520.5" fill="#cfccbf"/><polygon points="606.7,483.2 607.9,483.2 607.9,490.2 606.7,490.1" fill="#cfccbf"/><polygon points="607.4,513.2 608.6,513.4 608.6,520.9 607.4,520.8" fill="#cfccbf"/><polygon points="609.6,483.3 610.8,483.4 610.8,490.4 609.6,490.3" fill="#cfccbf"/><polygon points="610.2,513.5 611.4,513.7 611.4,521.3 610.2,521.1" fill="#cfccbf"/><polygon points="612.4,483.4 613.6,483.5 613.6,490.5 612.4,490.5" fill="#cfccbf"/><polygon points="613.1,513.8 614.3,513.9 614.3,521.6 613.1,521.5" fill="#cfccbf"/><polygon points="615.2,483.6 616.4,483.6 616.4,490.7 615.2,490.6" fill="#cfccbf"/><polygon points="615.9,514.1 617.1,514.2 617.1,521.9 615.9,521.8" fill="#cfccbf"/><polygon points="618.1,483.7 619.3,483.8 619.3,490.9 618.1,490.8" fill="#cfccbf"/><polygon points="618.7,514.4 619.9,514.5 619.9,522.3 618.7,522.1" fill="#cfccbf"/><polygon points="620.9,483.8 622.1,483.9 622.1,491.0 620.9,491.0" fill="#cfccbf"/><polygon points="621.6,514.7 622.8,514.8 622.8,522.6 621.6,522.5" fill="#cfccbf"/><polygon points="623.7,484.0 624.9,484.0 624.9,491.2 623.7,491.1" fill="#cfccbf"/><polygon points="624.4,515.0 625.6,515.1 625.6,522.9 624.4,522.8" fill="#cfccbf"/><polygon points="626.6,484.1 627.8,484.2 627.8,491.4 626.6,491.3" fill="#cfccbf"/><polygon points="627.2,515.3 628.5,515.4 628.5,523.3 627.2,523.1" fill="#cfccbf"/><polygon points="629.4,484.2 630.6,484.3 630.6,491.6 629.4,491.5" fill="#cfccbf"/><polygon points="630.1,515.6 631.3,515.7 631.3,523.6 630.1,523.4" fill="#cfccbf"/><polygon points="632.3,484.4 633.5,484.4 633.5,491.7 632.3,491.7" fill="#cfccbf"/><polygon points="632.9,515.9 634.1,516.0 634.1,523.9 632.9,523.8" fill="#cfccbf"/><polygon points="635.1,484.5 636.3,484.6 636.3,491.9 635.1,491.8" fill="#cfccbf"/><polygon points="635.8,516.2 637.0,516.3 637.0,524.3 635.8,524.1" fill="#cfccbf"/><polygon points="637.9,484.6 639.1,484.7 639.1,492.1 637.9,492.0" fill="#cfccbf"/><polygon points="638.6,516.4 639.8,516.6 639.8,524.6 638.6,524.4" fill="#cfccbf"/><polygon points="640.8,484.8 642.0,484.8 642.0,492.2 640.8,492.2" fill="#cfccbf"/><polygon points="641.4,516.7 642.6,516.9 642.6,524.9 641.4,524.8" fill="#cfccbf"/><polygon points="643.6,484.9 644.8,485.0 644.8,492.4 643.6,492.3" fill="#cfccbf"/><polygon points="644.3,517.0 645.5,517.2 645.5,525.2 644.3,525.1" fill="#cfccbf"/><polygon points="646.4,485.0 647.6,485.1 647.6,492.6 646.4,492.5" fill="#cfccbf"/><polygon points="647.1,517.3 648.3,517.4 648.3,525.6 647.1,525.4" fill="#cfccbf"/><polygon points="649.3,485.2 650.5,485.2 650.5,492.7 649.3,492.7" fill="#cfccbf"/><polygon points="649.9,517.6 651.1,517.7 651.1,525.9 649.9,525.8" fill="#cfccbf"/><polygon points="652.1,485.3 653.3,485.4 653.3,492.9 652.1,492.8" fill="#cfccbf"/><polygon points="652.8,517.9 654.0,518.0 654.0,526.2 652.8,526.1" fill="#cfccbf"/><polygon points="654.9,485.4 656.1,485.5 656.1,493.1 654.9,493.0" fill="#cfccbf"/><polygon points="655.6,518.2 656.8,518.3 656.8,526.6 655.6,526.4" fill="#cfccbf"/><line x1="603.2" y1="486.2" x2="657.6" y2="489.0" stroke="#4a463c" stroke-width="0.5"/><line x1="603.2" y1="516.6" x2="658.9" y2="522.7" stroke="#4a463c" stroke-width="0.5"/><polygon points="605.2,490.4 653.9,493.4 653.9,517.6 605.2,512.6" fill="#eeeeea"/><polygon points="596.9,490.5 605.6,491.0 605.6,511.3 596.9,510.4" fill="#e9e9e4" stroke="#c7c7c0" stroke-width="0.4"/><polygon points="653.9,497.1 659.6,497.4 659.6,514.9 653.9,514.3" fill="#dcdcd6" stroke="#bcbcb5" stroke-width="0.4"/><polygon points="609.6,494.1 616.9,494.6 616.9,496.4 609.6,495.9" fill="#3a6fb5"/><polygon points="605.2,490.4 653.9,493.4 653.9,494.3 605.2,491.2" fill="#8fa3b8"/><polygon points="636.6,494.6 640.6,494.9 640.6,495.7 636.6,495.4" fill="#6f7a84"/><polygon points="642.6,495.0 647.3,495.3 647.3,496.1 642.6,495.8" fill="#8a939b"/><polygon points="636.6,497.2 640.6,497.4 640.6,498.2 636.6,497.9" fill="#6f7a84"/><polygon points="642.6,497.6 647.3,497.9 647.3,498.7 642.6,498.3" fill="#8a939b"/><polygon points="636.6,499.7 640.6,500.0 640.6,500.7 636.6,500.4" fill="#6f7a84"/><polygon points="642.6,500.1 647.3,500.5 647.3,501.2 642.6,500.9" fill="#8a939b"/><polygon points="636.6,504.3 640.6,504.6 640.6,505.4 636.6,505.0" fill="#6f7a84"/><polygon points="642.6,504.8 647.3,505.2 647.3,505.9 642.6,505.5" fill="#8a939b"/><polygon points="636.6,506.8 640.6,507.1 640.6,507.9 636.6,507.6" fill="#6f7a84"/><polygon points="642.6,507.3 647.3,507.7 647.3,508.5 642.6,508.1" fill="#8a939b"/><polygon points="636.6,509.3 640.6,509.7 640.6,510.4 636.6,510.1" fill="#6f7a84"/><polygon points="642.6,509.9 647.3,510.3 647.3,511.1 642.6,510.6" fill="#8a939b"/><polygon points="636.6,511.8 640.6,512.2 640.6,513.0 636.6,512.6" fill="#6f7a84"/><polygon points="642.6,512.4 647.3,512.8 647.3,513.6 642.6,513.2" fill="#8a939b"/><polygon points="636.6,513.9 640.6,514.3 640.6,515.1 636.6,514.7" fill="#6f7a84"/><polygon points="642.6,514.5 647.3,515.0 647.3,515.8 642.6,515.3" fill="#8a939b"/><polygon points="625.2,509.9 632.6,510.6 632.6,511.7 625.2,511.0" fill="#7a7f86"/></g><g filter="url(#soft)"><polygon points="733.3,466.3 744.0,467.4 744.0,529.4 733.3,519.0" fill="#cfd3d9"/><rect x="737.2" y="478" width="1.6" height="8" fill="#b6bbc3"/><rect x="737.2" y="490" width="1.6" height="8" fill="#b6bbc3"/><rect x="737.2" y="502" width="1.6" height="8" fill="#b6bbc3"/><polygon points="733.3,466.3 737.0,465.6 777.0,469.0 781.5,472.4 744.0,467.4" fill="#f1f2f5"/><polygon points="744.0,467.4 777.6,469.6 781.5,472.6 781.5,524.4 744.0,529.8" fill="#e4e6ea"/><polygon points="778.0,470.0 781.5,472.6 781.5,524.4 778.0,525.0" fill="#d3d6dc"/><line x1="744.4" y1="502.8" x2="781" y2="502.6" stroke="#c3c7ce" stroke-width="0.5"/><rect x="754" y="471.4" width="23" height="14.4" rx="0.8" fill="#15161a"/><rect x="764.4" y="476.2" width="9.8" height="3.6" fill="#e8332d"/><rect x="766.6" y="476.8" width="0.6" height="2.4" fill="#15161a"/><rect x="769" y="476.8" width="0.6" height="2.4" fill="#15161a"/><rect x="771.4" y="476.8" width="0.6" height="2.4" fill="#15161a"/><rect x="758.4" y="473.2" width="1.2" height="0.7" fill="#6b3030"/><rect x="758.4" y="482.6" width="1.2" height="0.7" fill="#6b3030"/><rect x="765.8" y="473.2" width="1.2" height="0.7" fill="#6b3030"/><rect x="765.8" y="482.6" width="1.2" height="0.7" fill="#6b3030"/><rect x="772.4" y="473.2" width="1.2" height="0.7" fill="#6b3030"/><rect x="772.4" y="482.6" width="1.2" height="0.7" fill="#6b3030"/><rect x="754" y="485.8" width="23" height="15.6" rx="1" fill="#dcdfe5" stroke="#c3c7ce" stroke-width="0.4"/><circle cx="758.3" cy="489.6" r="2.3" fill="#35a853"/><circle cx="758.3" cy="496.4" r="2.3" fill="#dc3b33"/><rect x="764.2" y="487.2" width="4.4" height="2.9" rx="1.2" fill="#3c4fae"/><rect x="769.8000000000001" y="487.2" width="4.4" height="2.9" rx="1.2" fill="#3c4fae"/><rect x="764.2" y="491.5" width="4.4" height="2.9" rx="1.2" fill="#3c4fae"/><rect x="769.8000000000001" y="491.5" width="4.4" height="2.9" rx="1.2" fill="#3c4fae"/><rect x="764.2" y="495.8" width="4.4" height="2.9" rx="1.2" fill="#3c4fae"/><rect x="769.8000000000001" y="495.8" width="4.4" height="2.9" rx="1.2" fill="#3c4fae"/><rect x="744.8" y="476.2" width="6.6" height="0.7" fill="#8a8f98"/><rect x="745.6" y="503.4" width="5.6" height="0.6" fill="#a2a7b0"/><rect x="758.2" y="511.4" width="13" height="3.3" fill="#d8412f"/><rect x="755.6" y="515.2" width="19.2" height="5.2" fill="#f6f6f4" stroke="#4a4a4a" stroke-width="0.4"/><rect x="757" y="516.6" width="16" height="0.6" fill="#7c7c7c"/><rect x="757" y="518.2" width="16" height="0.6" fill="#7c7c7c"/></g><g clip-path="url(#cabclip)"><g filter="url(#soft2)"><rect x="946.2" y="469" width="93.5" height="53" fill="url(#cabg)"/><polygon points="946.2,469.0 952.0,469.0 949.5,500.0 951.0,522.0 946.2,522.0" fill="#2d2e2d"/><polygon points="1031.0,522.0 1039.7,505.0 1039.7,522.0" fill="#3c4a3a"/><polygon points="1024.0,469.0 1039.7,469.0 1039.7,490.0 1032.0,486.0" fill="#5a5b59"/><polygon points="950.4,495.2 955.0,487.4 975.0,487.4 976.0,495.2" fill="#a97868"/><rect x="951" y="495" width="37.2" height="17.4" fill="#141416"/><rect x="962.4" y="500.2" width="16.6" height="8.4" fill="#dcdcdc"/><rect x="964" y="501.4" width="13.4" height="5.6" fill="#9c9c9c" opacity="0.7"/><rect x="968" y="495.8" width="4" height="1.3" fill="#e8c531"/><rect x="968.4" y="509.4" width="9.4" height="9.6" fill="#b9b9b4" stroke="#6d6d69" stroke-width="0.5"/><rect x="970.6" y="514" width="5" height="4" fill="#7d7a60"/><rect x="976.4" y="487" width="10" height="7.6" fill="#55565a"/><circle cx="979.6" cy="491.6" r="1.2" fill="#1e1e1f"/><circle cx="983.6" cy="491.6" r="1.2" fill="#1e1e1f"/><polygon points="999.4,489.6 1001.2,484.2 1030.6,484.4 1032.0,490.0" fill="#b27d6c"/><polygon points="1003.6,488.4 1005.4,485.4 1027.0,485.4 1028.4,488.4" fill="#8f8f8c"/><rect x="998.2" y="489.4" width="32.8" height="21.8" fill="#121214"/><rect x="1013.2" y="491" width="4.6" height="1.5" fill="#e8c531"/><rect x="1006.4" y="509" width="8.6" height="8.6" fill="#c3c3bf" stroke="#6d6d69" stroke-width="0.5"/><line x1="982.6" y1="468" x2="984.4" y2="485" stroke="#79bf45" stroke-width="2.1"/><line x1="987.4" y1="468" x2="990" y2="485" stroke="#79bf45" stroke-width="2.1"/><rect x="982.6" y="484" width="3.6" height="9" fill="#1b1b1c"/><rect x="988.2" y="484" width="3.6" height="9" fill="#1b1b1c"/><path d="M1002.4 468 Q996.5 478 995.2 488" stroke="#d9d7a4" stroke-width="1.5" fill="none"/><rect x="993.8" y="486" width="2.8" height="6" fill="#d9d9d4"/><line x1="1015.2" y1="468" x2="1011.6" y2="478.6" stroke="#79bf45" stroke-width="2.1"/><line x1="1035" y1="468" x2="1028.6" y2="479.6" stroke="#79bf45" stroke-width="2.1"/><rect x="1008.8" y="477.6" width="4.8" height="9.4" fill="#161617"/><rect x="1025.4" y="478.4" width="5" height="9" fill="#161617"/><path d="M962 469 Q958 484 949.6 494" stroke="#b9b9b6" stroke-width="0.6" fill="none"/></g></g><use href="#factory" x="47.8" y="535"/><use href="#factory" x="413.5" y="535"/><use href="#factory" x="771.6" y="535"/><g clip-path="url(#wmclip)"><text x="927.7" y="615.1" font-size="17.4" fill="#fff" stroke="#3c3c3c" stroke-width="1.4" paint-order="stroke" textLength="67" lengthAdjust="spacingAndGlyphs">CSDN @</text></g>
<circle cx="262.6" cy="149.6" r="7.4" fill="#ff0000" stroke="#000" stroke-width="1.1"/>
<circle cx="614.7" cy="202.6" r="7.4" fill="#ff0000" stroke="#000" stroke-width="1.1"/>
<circle cx="164.1" cy="324.9" r="7.4" fill="#ff0000" stroke="#000" stroke-width="1.1"/>
<circle cx="527" cy="323.4" r="7.4" fill="#ff0000" stroke="#000" stroke-width="1.1"/>
<circle cx="872.9" cy="310.5" r="7.4" fill="#ff0000" stroke="#000" stroke-width="1.1"/>
<g fill="#1e5c86" transform="translate(161.00 35.00) scale(1.0030 1)"><text x="0" y="0" font-size="22.20" font-weight="bold" textLength="199.8" lengthAdjust="spacingAndGlyphs">生产线分布式监控站</text></g>
<rect x="161" y="37.9" width="200.4" height="1.5" fill="#1e5c86"/>
<g fill="#1e5c86" transform="translate(657.20 31.20) scale(1.0015 1)"><text x="0" y="0" font-size="22.30" font-weight="bold" textLength="200.7" lengthAdjust="spacingAndGlyphs">远程数据中心监控室</text></g>
<rect x="657.2" y="34.1" width="201" height="1.5" fill="#1e5c86"/>
<g fill="#1e5c86" transform="translate(68.90 117.60)"><text x="0" y="0" font-size="17.20" font-weight="bold" textLength="68.8" lengthAdjust="spacingAndGlyphs">运行状态</text></g>
<path d="M55.90 110.20 L57.70 109.10 L59.35 112.40 Q62.90 106.50 67.40 103.30 L68.00 103.70 Q63.50 108.30 59.85 114.80 L58.65 114.95 Z" fill="#1e5c86" stroke="#1e5c86" stroke-width="0.3" stroke-linejoin="round"/>
<g fill="#1e5c86" transform="translate(68.90 138.20)"><text x="0" y="0" font-size="17.20" font-weight="bold" textLength="68.8" lengthAdjust="spacingAndGlyphs">报警信息</text></g>
<path d="M55.90 130.80 L57.70 129.70 L59.35 133.00 Q62.90 127.10 67.40 123.90 L68.00 124.30 Q63.50 128.90 59.85 135.40 L58.65 135.55 Z" fill="#1e5c86" stroke="#1e5c86" stroke-width="0.3" stroke-linejoin="round"/>
<g fill="#1e5c86" transform="translate(68.90 158.80)"><text x="0" y="0" font-size="17.20" font-weight="bold" textLength="68.8" lengthAdjust="spacingAndGlyphs">产量采集</text></g>
<path d="M55.90 151.40 L57.70 150.30 L59.35 153.60 Q62.90 147.70 67.40 144.50 L68.00 144.90 Q63.50 149.50 59.85 156.00 L58.65 156.15 Z" fill="#1e5c86" stroke="#1e5c86" stroke-width="0.3" stroke-linejoin="round"/>
<g fill="#1e5c86" transform="translate(948.80 119.80)"><text x="0" y="0" font-size="17.25" font-weight="bold" textLength="69.0" lengthAdjust="spacingAndGlyphs">运行状态</text></g>
<path d="M936.60 112.40 L938.40 111.30 L940.05 114.60 Q943.60 108.70 948.10 105.50 L948.70 105.90 Q944.20 110.50 940.55 117.00 L939.35 117.15 Z" fill="#1e5c86" stroke="#1e5c86" stroke-width="0.3" stroke-linejoin="round"/>
<g fill="#1e5c86" transform="translate(948.80 140.70)"><text x="0" y="0" font-size="17.25" font-weight="bold" textLength="69.0" lengthAdjust="spacingAndGlyphs">报警信息</text></g>
<path d="M936.60 133.30 L938.40 132.20 L940.05 135.50 Q943.60 129.60 948.10 126.40 L948.70 126.80 Q944.20 131.40 940.55 137.90 L939.35 138.05 Z" fill="#1e5c86" stroke="#1e5c86" stroke-width="0.3" stroke-linejoin="round"/>
<g fill="#1e5c86" transform="translate(948.80 161.60)"><text x="0" y="0" font-size="17.25" font-weight="bold" textLength="69.0" lengthAdjust="spacingAndGlyphs">数据分析</text></g>
<path d="M936.60 154.20 L938.40 153.10 L940.05 156.40 Q943.60 150.50 948.10 147.30 L948.70 147.70 Q944.20 152.30 940.55 158.80 L939.35 158.95 Z" fill="#1e5c86" stroke="#1e5c86" stroke-width="0.3" stroke-linejoin="round"/>
<g fill="#1e5c86" transform="translate(351.00 75.80)"><text x="0" y="0" font-size="14.80" font-weight="bold" textLength="59.2" lengthAdjust="spacingAndGlyphs">车间看板</text></g>
<path d="M340.34 69.11 L341.82 68.21 L343.17 70.91 Q346.08 66.08 349.77 63.45 L350.26 63.78 Q346.57 67.55 343.58 72.88 L342.60 73.00 Z" fill="#1e5c86" stroke="#1e5c86" stroke-width="0.3" stroke-linejoin="round"/>
<g fill="#1e5c86" transform="translate(633.60 70.70)"><text x="0" y="0" font-size="14.80" font-weight="bold" textLength="59.2" lengthAdjust="spacingAndGlyphs">设备监控</text></g>
<path d="M622.94 64.01 L624.42 63.11 L625.77 65.81 Q628.68 60.98 632.37 58.35 L632.86 58.68 Q629.17 62.45 626.18 67.78 L625.19 67.91 Z" fill="#1e5c86" stroke="#1e5c86" stroke-width="0.3" stroke-linejoin="round"/>
<g fill="#1e5c86" transform="translate(744.60 68.70)"><text x="0" y="0" font-size="14.80" font-weight="bold" textLength="59.2" lengthAdjust="spacingAndGlyphs">生产产量</text></g>
<path d="M733.94 62.01 L735.42 61.11 L736.77 63.81 Q739.68 58.98 743.37 56.35 L743.86 56.68 Q740.17 60.45 737.18 65.78 L736.19 65.91 Z" fill="#1e5c86" stroke="#1e5c86" stroke-width="0.3" stroke-linejoin="round"/>
<g fill="#1e5c86" transform="translate(849.20 68.40)"><text x="0" y="0" font-size="14.80" font-weight="bold" textLength="59.2" lengthAdjust="spacingAndGlyphs">故障报警</text></g>
<path d="M838.54 61.71 L840.02 60.81 L841.37 63.51 Q844.28 58.68 847.97 56.05 L848.46 56.38 Q844.77 60.15 841.78 65.48 L840.79 65.61 Z" fill="#1e5c86" stroke="#1e5c86" stroke-width="0.3" stroke-linejoin="round"/>
<g fill="#000" transform="translate(195.70 241.70)"><text x="0" y="0" font-size="12.15" font-weight="bold" textLength="48.6" lengthAdjust="spacingAndGlyphs">车间主机</text></g>
<g fill="#000" transform="translate(708.80 242.10)"><text x="0" y="0" font-size="12.30" font-weight="bold" textLength="61.5" lengthAdjust="spacingAndGlyphs">数据服务器</text></g>
<g fill="#000" transform="translate(72.00 300.60) scale(1.0058 1)"><text x="0" y="0" font-size="14.70" font-weight="bold" textLength="188.1" lengthAdjust="spacingAndGlyphs">WIFI上网，MODBUS/MQTT</text></g>
<g fill="#000" transform="translate(436.00 301.20) scale(1.0137 1)"><text x="0" y="0" font-size="14.70" font-weight="bold" textLength="189.2" lengthAdjust="spacingAndGlyphs">以太网上网，上行协议MQTT</text></g>
<g fill="#000" transform="translate(762.20 297.40) scale(1.0132 1)"><text x="0" y="0" font-size="14.70" font-weight="bold" textLength="205.6" lengthAdjust="spacingAndGlyphs">通过5G/4G上网，开放上行接口</text></g>
<g fill="#231f20" transform="translate(181.00 367.30)"><text x="0" y="0" font-size="14.70" font-weight="bold" textLength="58.8" lengthAdjust="spacingAndGlyphs">智能网关</text></g>
<g fill="#231f20" transform="translate(547.60 367.30)"><text x="0" y="0" font-size="14.70" font-weight="bold" textLength="58.8" lengthAdjust="spacingAndGlyphs">智能网关</text></g>
<g fill="#231f20" transform="translate(897.70 367.30)"><text x="0" y="0" font-size="14.70" font-weight="bold" textLength="58.8" lengthAdjust="spacingAndGlyphs">智能网关</text></g>
<g fill="#231f20" transform="translate(83.40 502.00)"><text x="0" y="0" font-size="14.60" font-weight="bold" textLength="29.2" lengthAdjust="spacingAndGlyphs">电表</text></g>
<g fill="#231f20" transform="translate(205.20 502.30)"><text x="0" y="0" font-size="14.60" font-weight="bold" textLength="43.8" lengthAdjust="spacingAndGlyphs">机器人</text></g>
<g fill="#231f20" transform="translate(789.00 516.60)"><text x="0" y="0" font-size="14.60" font-weight="bold" textLength="43.8" lengthAdjust="spacingAndGlyphs">变频器</text></g>
<g fill="#231f20" transform="translate(853.30 515.80)"><text x="0" y="0" font-size="14.80" font-weight="bold" textLength="88.8" lengthAdjust="spacingAndGlyphs">半自动控制器</text></g>
<g fill="#231f20" transform="translate(466.80 513.40)"><text x="0.00" y="0" font-size="14.30" font-weight="bold">PLC</text></g>
<g fill="#231f20" transform="translate(558.20 514.80)"><text x="0.00" y="0" font-size="14.30" font-weight="bold">PLC</text></g>
<g fill="#111" transform="translate(71.80 403.80)"><text x="0" y="0" font-size="12.40" textLength="24.8" lengthAdjust="spacingAndGlyphs">串口</text></g>
<g fill="#111" transform="translate(236.30 408.00)"><text x="0" y="0" font-size="12.40" textLength="24.8" lengthAdjust="spacingAndGlyphs">网口</text></g>
<g fill="#111" transform="translate(588.30 409.20)"><text x="0" y="0" font-size="12.35" textLength="52.7" lengthAdjust="spacingAndGlyphs">网口/串口</text></g>
<g fill="#111" transform="translate(911.70 409.60)"><text x="0" y="0" font-size="12.35" textLength="52.7" lengthAdjust="spacingAndGlyphs">网口/串口</text></g>
<text x="664.0" y="185.9" font-size="12.0" fill="#000">HDMI</text>
<text x="761.0" y="186.7" font-size="12.0" fill="#000">TX/RX</text>
<text x="800.5" y="178.0" font-size="12.0" fill="#000">100 M</text>
<text x="801.3" y="154.2" font-size="12.0" fill="#000">Ethernet</text>
<text x="858.8" y="189.0" font-size="12.0" fill="#000">RX</text>
</svg>
</body></html>
